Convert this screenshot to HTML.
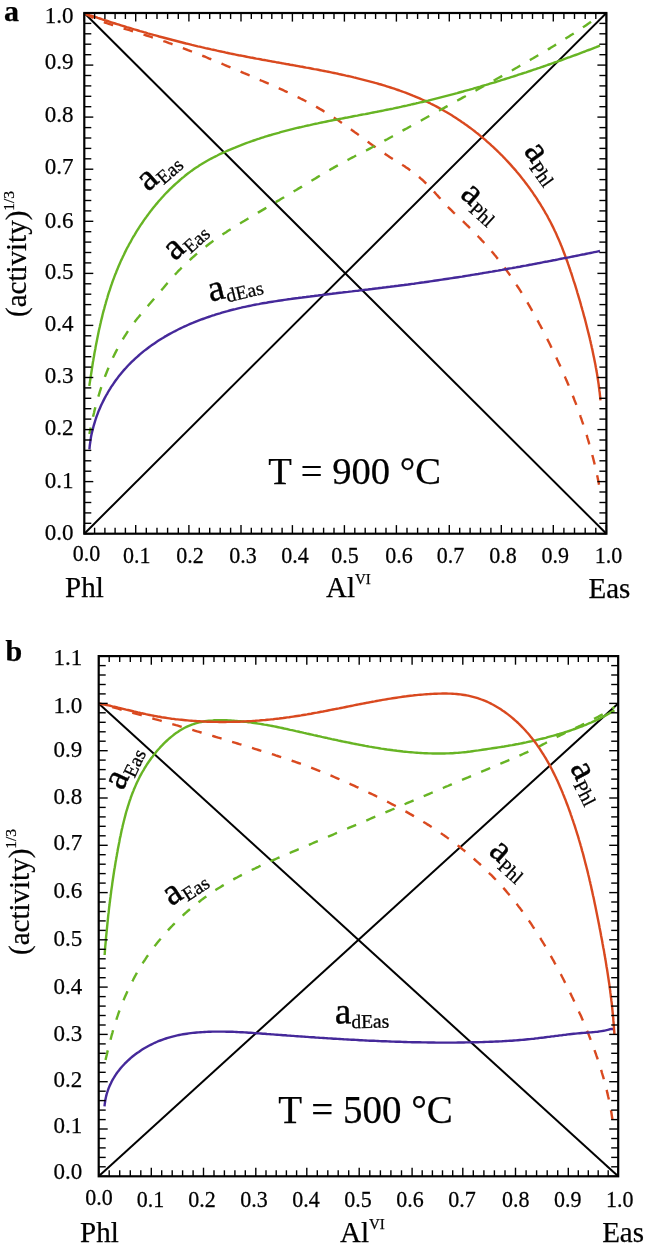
<!DOCTYPE html>
<html><head><meta charset="utf-8"><style>
html,body{margin:0;padding:0;background:#fff;width:646px;height:1246px;overflow:hidden}
svg{display:block}
text{font-family:"Liberation Serif",serif;fill:#000;stroke:#000;stroke-width:0.25px}
</style></head><body>
<svg width="646" height="1246" viewBox="0 0 646 1246" font-family="Liberation Serif, serif">
<rect width="646" height="1246" fill="#fff"/>
<g opacity="0.999">
<line x1="84.3" y1="13.0" x2="606.4" y2="533.7" stroke="#000" stroke-width="2"/><line x1="84.3" y1="533.7" x2="606.4" y2="13.0" stroke="#000" stroke-width="2"/><path d="M84.3,13.3 L86.2,14.0 L88.2,14.6 L90.1,15.3 L92.0,15.9 L94.0,16.6 L95.9,17.2 L97.8,17.9 L99.7,18.5 L101.7,19.2 L103.6,19.8 L105.5,20.4 L107.4,21.0 L109.4,21.7 L111.3,22.3 L113.2,22.9 L115.1,23.5 L117.0,24.1 L119.0,24.7 L120.9,25.3 L122.8,25.9 L124.7,26.5 L126.6,27.1 L128.6,27.6 L130.5,28.2 L132.4,28.8 L134.3,29.4 L136.2,29.9 L138.1,30.5 L140.1,31.1 L142.0,31.6 L143.9,32.2 L145.8,32.7 L147.7,33.3 L149.6,33.8 L151.5,34.3 L153.5,34.9 L155.4,35.4 L157.3,35.9 L159.2,36.5 L161.1,37.0 L163.1,37.5 L165.0,38.0 L166.9,38.5 L168.8,39.0 L170.7,39.5 L172.6,40.0 L174.6,40.5 L176.5,41.0 L178.4,41.5 L180.3,42.0 L182.3,42.5 L184.2,43.0 L186.1,43.5 L188.0,43.9 L190.0,44.4 L191.9,44.9 L193.8,45.3 L195.8,45.8 L197.7,46.3 L199.6,46.7 L201.6,47.2 L203.5,47.6 L205.4,48.1 L207.4,48.5 L209.3,48.9 L211.2,49.4 L213.2,49.8 L215.1,50.2 L217.1,50.7 L219.0,51.1 L221.0,51.5 L222.9,51.9 L224.9,52.3 L226.8,52.8 L228.8,53.2 L230.7,53.6 L232.7,54.0 L234.7,54.4 L236.6,54.8 L238.6,55.2 L240.5,55.5 L242.5,55.9 L244.5,56.3 L246.5,56.7 L248.4,57.1 L250.4,57.5 L252.4,57.8 L254.4,58.2 L256.3,58.6 L258.3,58.9 L260.3,59.3 L262.3,59.7 L264.3,60.0 L266.3,60.4 L268.3,60.8 L270.3,61.1 L272.3,61.5 L274.3,61.8 L276.2,62.2 L278.2,62.5 L280.2,62.9 L282.2,63.3 L284.2,63.6 L286.2,64.0 L288.2,64.3 L290.2,64.7 L292.2,65.0 L294.2,65.4 L296.2,65.8 L298.2,66.1 L300.2,66.5 L302.2,66.8 L304.2,67.2 L306.2,67.6 L308.2,67.9 L310.2,68.3 L312.2,68.7 L314.2,69.1 L316.2,69.4 L318.2,69.8 L320.2,70.2 L322.2,70.6 L324.2,71.0 L326.2,71.4 L328.2,71.8 L330.1,72.2 L332.1,72.6 L334.1,73.0 L336.1,73.4 L338.1,73.8 L340.0,74.3 L342.0,74.7 L344.0,75.1 L346.0,75.6 L347.9,76.0 L349.9,76.4 L351.9,76.9 L353.8,77.4 L355.8,77.8 L357.7,78.3 L359.7,78.8 L361.6,79.3 L363.6,79.8 L365.5,80.3 L367.5,80.8 L369.4,81.3 L371.3,81.8 L373.3,82.3 L375.2,82.9 L377.1,83.4 L379.0,84.0 L381.0,84.5 L382.9,85.1 L384.8,85.7 L386.7,86.3 L388.6,86.9 L390.5,87.5 L392.4,88.1 L394.3,88.7 L396.1,89.3 L398.0,90.0 L399.9,90.7 L401.8,91.3 L403.6,92.0 L405.5,92.7 L407.3,93.4 L409.2,94.1 L411.0,94.8 L412.9,95.6 L414.7,96.3 L416.5,97.1 L418.4,97.9 L420.2,98.7 L422.0,99.5 L423.8,100.3 L425.6,101.1 L427.4,102.0 L429.2,102.8 L430.9,103.7 L432.7,104.6 L434.5,105.5 L436.2,106.4 L438.0,107.4 L439.7,108.3 L441.5,109.3 L443.2,110.3 L444.9,111.3 L446.7,112.3 L448.4,113.3 L450.1,114.3 L451.8,115.3 L453.5,116.4 L455.2,117.5 L456.8,118.6 L458.5,119.7 L460.2,120.8 L461.8,121.9 L463.5,123.0 L465.1,124.2 L466.7,125.3 L468.3,126.5 L470.0,127.7 L471.6,128.9 L473.2,130.1 L474.7,131.3 L476.3,132.6 L477.9,133.8 L479.5,135.1 L481.0,136.4 L482.5,137.6 L484.1,138.9 L485.6,140.2 L487.1,141.6 L488.6,142.9 L490.1,144.2 L491.6,145.6 L493.1,146.9 L494.6,148.3 L496.0,149.7 L497.5,151.1 L498.9,152.5 L500.3,153.9 L501.8,155.3 L503.2,156.8 L504.6,158.2 L506.0,159.7 L507.3,161.1 L508.7,162.6 L510.1,164.1 L511.4,165.6 L512.7,167.1 L514.1,168.6 L515.4,170.1 L516.7,171.7 L518.0,173.2 L519.3,174.8 L520.5,176.3 L521.8,177.9 L523.0,179.5 L524.3,181.1 L525.5,182.7 L526.7,184.3 L527.9,185.9 L529.1,187.5 L530.3,189.1 L531.4,190.8 L532.6,192.4 L533.7,194.1 L534.8,195.7 L536.0,197.4 L537.1,199.1 L538.1,200.8 L539.2,202.5 L540.3,204.2 L541.3,205.9 L542.4,207.6 L543.4,209.3 L544.4,211.0 L545.4,212.8 L546.4,214.5 L547.4,216.2 L548.3,218.0 L549.3,219.8 L550.2,221.5 L551.1,223.3 L552.0,225.1 L552.9,226.9 L553.8,228.7 L554.6,230.5 L555.5,232.3 L556.3,234.1 L557.1,235.9 L557.9,237.7 L558.7,239.5 L559.5,241.4 L560.3,243.2 L561.0,245.0 L561.8,246.9 L562.5,248.7 L563.2,250.6 L563.9,252.5 L564.6,254.3 L565.3,256.2 L566.0,258.1 L566.7,260.0 L567.4,261.8 L568.0,263.7 L568.7,265.6 L569.3,267.5 L570.0,269.4 L570.6,271.3 L571.3,273.2 L571.9,275.1 L572.5,277.0 L573.1,279.0 L573.7,280.9 L574.4,282.8 L575.0,284.7 L575.6,286.7 L576.2,288.6 L576.8,290.5 L577.3,292.5 L577.9,294.4 L578.5,296.4 L579.1,298.3 L579.7,300.3 L580.2,302.2 L580.8,304.2 L581.3,306.1 L581.9,308.1 L582.4,310.0 L583.0,312.0 L583.5,314.0 L584.0,315.9 L584.6,317.9 L585.1,319.8 L585.6,321.8 L586.1,323.8 L586.6,325.8 L587.1,327.7 L587.6,329.7 L588.1,331.7 L588.6,333.6 L589.1,335.6 L589.6,337.6 L590.0,339.6 L590.5,341.5 L590.9,343.5 L591.4,345.5 L591.8,347.5 L592.3,349.4 L592.7,351.4 L593.1,353.4 L593.5,355.4 L593.9,357.3 L594.3,359.3 L594.7,361.3 L595.1,363.2 L595.5,365.2 L595.8,367.2 L596.2,369.1 L596.5,371.1 L596.9,373.1 L597.2,375.0 L597.5,377.0 L597.8,379.0 L598.1,380.9 L598.4,382.9 L598.7,384.8 L598.9,386.8 L599.2,388.7 L599.4,390.7 L599.7,392.6 L599.9,394.6 L600.1,396.5 L600.3,398.5 L600.5,400.4" fill="none" stroke="#d9491f" stroke-width="2.4" stroke-linejoin="round"/><path d="M84.3,13.3 L86.2,14.3 L88.1,15.3 L89.9,16.2 L91.8,17.1 L93.7,18.0 L95.6,18.8 L97.4,19.6 L99.3,20.4 L101.2,21.1 L103.1,21.8 L105.0,22.5 L106.9,23.2 L108.7,23.8 L110.6,24.4 L112.5,25.0 L114.4,25.6 L116.3,26.2 L118.2,26.8 L120.1,27.4 L121.9,27.9 L123.8,28.5 L125.7,29.1 L127.6,29.6 L129.5,30.2 L131.4,30.8 L133.3,31.4 L135.2,31.9 L137.0,32.5 L138.9,33.1 L140.8,33.7 L142.7,34.3 L144.6,34.9 L146.5,35.5 L148.4,36.1 L150.3,36.7 L152.2,37.3 L154.0,37.9 L155.9,38.5 L157.8,39.2 L159.7,39.8 L161.6,40.4 L163.5,41.1 L165.4,41.7 L167.3,42.4 L169.1,43.1 L171.0,43.7 L172.9,44.4 L174.8,45.1 L176.7,45.8 L178.6,46.5 L180.5,47.2 L182.3,47.9 L184.2,48.6 L186.1,49.3 L188.0,50.1 L189.9,50.8 L191.7,51.5 L193.6,52.2 L195.5,53.0 L197.4,53.7 L199.3,54.5 L201.1,55.2 L203.0,56.0 L204.9,56.7 L206.8,57.5 L208.6,58.3 L210.5,59.0 L212.4,59.8 L214.3,60.6 L216.1,61.4 L218.0,62.1 L219.9,62.9 L221.7,63.7 L223.6,64.5 L225.5,65.3 L227.3,66.1 L229.2,66.8 L231.1,67.6 L232.9,68.4 L234.8,69.2 L236.6,70.0 L238.5,70.8 L240.4,71.6 L242.2,72.4 L244.1,73.2 L245.9,73.9 L247.8,74.7 L249.6,75.5 L251.5,76.3 L253.3,77.1 L255.2,77.9 L257.0,78.7 L258.8,79.5 L260.7,80.3 L262.5,81.0 L264.4,81.8 L266.2,82.6 L268.0,83.4 L269.8,84.2 L271.7,85.0 L273.5,85.8 L275.3,86.6 L277.1,87.5 L279.0,88.3 L280.8,89.1 L282.6,89.9 L284.4,90.8 L286.2,91.6 L288.0,92.4 L289.8,93.3 L291.6,94.1 L293.4,95.0 L295.2,95.9 L297.0,96.8 L298.8,97.6 L300.5,98.5 L302.3,99.4 L304.1,100.3 L305.9,101.2 L307.6,102.2 L309.4,103.1 L311.1,104.0 L312.9,105.0 L314.6,106.0 L316.4,106.9 L318.1,107.9 L319.8,108.9 L321.6,109.9 L323.3,110.9 L325.0,112.0 L326.7,113.0 L328.4,114.0 L330.1,115.1 L331.8,116.2 L333.5,117.3 L335.2,118.4 L336.9,119.5 L338.6,120.6 L340.2,121.8 L341.9,122.9 L343.6,124.1 L345.2,125.2 L346.9,126.4 L348.5,127.6 L350.2,128.8 L351.8,130.0 L353.5,131.2 L355.1,132.4 L356.8,133.6 L358.4,134.8 L360.0,136.0 L361.7,137.2 L363.3,138.4 L364.9,139.6 L366.6,140.8 L368.2,142.0 L369.8,143.2 L371.5,144.4 L373.1,145.6 L374.7,146.7 L376.4,147.9 L378.0,149.1 L379.7,150.2 L381.3,151.4 L383.0,152.5 L384.6,153.6 L386.3,154.7 L387.9,155.8 L389.6,156.9 L391.2,157.9 L392.9,159.0 L394.6,160.0 L396.3,161.1 L397.9,162.1 L399.6,163.2 L401.3,164.2 L402.9,165.3 L404.6,166.3 L406.2,167.4 L407.9,168.5 L409.5,169.7 L411.1,170.8 L412.7,172.0 L414.4,173.2 L415.9,174.4 L417.5,175.7 L419.1,177.0 L420.6,178.4 L422.2,179.7 L423.7,181.1 L425.2,182.6 L426.6,184.0 L428.1,185.4 L429.5,186.9 L430.9,188.4 L432.3,189.8 L433.6,191.3 L435.0,192.7 L436.3,194.2 L437.6,195.6 L438.9,197.1 L440.2,198.5 L441.4,200.0 L442.7,201.4 L444.1,202.8 L445.4,204.2 L446.7,205.7 L448.1,207.1 L449.5,208.5 L451.0,209.9 L452.4,211.3 L453.9,212.8 L455.4,214.2 L456.9,215.6 L458.4,217.0 L459.9,218.4 L461.4,219.8 L462.9,221.2 L464.4,222.7 L465.9,224.1 L467.3,225.5 L468.8,226.9 L470.2,228.3 L471.7,229.8 L473.1,231.2 L474.5,232.6 L475.9,234.1 L477.3,235.5 L478.7,237.0 L480.1,238.4 L481.4,239.9 L482.8,241.3 L484.1,242.8 L485.5,244.3 L486.8,245.8 L488.1,247.3 L489.4,248.7 L490.7,250.2 L492.0,251.8 L493.3,253.3 L494.5,254.8 L495.8,256.3 L497.0,257.9 L498.3,259.4 L499.5,261.0 L500.7,262.6 L501.9,264.1 L503.1,265.7 L504.3,267.3 L505.5,268.9 L506.7,270.5 L507.8,272.1 L509.0,273.8 L510.1,275.4 L511.3,277.1 L512.4,278.7 L513.5,280.4 L514.6,282.0 L515.7,283.7 L516.8,285.4 L517.9,287.0 L519.0,288.7 L520.1,290.4 L521.2,292.1 L522.2,293.8 L523.3,295.5 L524.3,297.3 L525.4,299.0 L526.4,300.7 L527.4,302.4 L528.4,304.2 L529.4,305.9 L530.4,307.7 L531.4,309.4 L532.4,311.2 L533.4,312.9 L534.4,314.7 L535.4,316.5 L536.4,318.2 L537.3,320.0 L538.3,321.8 L539.2,323.6 L540.2,325.3 L541.1,327.1 L542.1,328.9 L543.0,330.7 L543.9,332.5 L544.8,334.3 L545.7,336.1 L546.7,337.9 L547.6,339.7 L548.5,341.5 L549.4,343.3 L550.3,345.1 L551.1,346.9 L552.0,348.7 L552.9,350.5 L553.8,352.4 L554.7,354.2 L555.5,356.0 L556.4,357.8 L557.2,359.6 L558.1,361.5 L558.9,363.3 L559.8,365.1 L560.6,366.9 L561.4,368.8 L562.2,370.6 L563.0,372.4 L563.8,374.3 L564.7,376.1 L565.4,377.9 L566.2,379.8 L567.0,381.6 L567.8,383.5 L568.6,385.3 L569.3,387.2 L570.1,389.0 L570.9,390.9 L571.6,392.7 L572.4,394.6 L573.1,396.5 L573.8,398.3 L574.5,400.2 L575.3,402.1 L576.0,403.9 L576.7,405.8 L577.4,407.7 L578.1,409.6 L578.7,411.5 L579.4,413.3 L580.1,415.2 L580.7,417.1 L581.4,419.0 L582.0,420.9 L582.7,422.8 L583.3,424.7 L583.9,426.6 L584.6,428.5 L585.2,430.4 L585.8,432.3 L586.4,434.2 L587.0,436.1 L587.5,438.0 L588.1,440.0 L588.7,441.9 L589.2,443.8 L589.8,445.7 L590.3,447.6 L590.9,449.6 L591.4,451.5 L591.9,453.4 L592.4,455.4 L592.9,457.3 L593.4,459.3 L593.9,461.2 L594.4,463.2 L594.8,465.1 L595.3,467.1 L595.7,469.0 L596.2,471.0 L596.6,473.0 L597.0,474.9 L597.5,476.9 L597.9,478.9 L598.3,480.9 L598.7,482.8 L599.0,484.8 L599.4,486.8" fill="none" stroke="#d9491f" stroke-width="2.4" stroke-linejoin="round" stroke-dasharray="9.8,11" stroke-dashoffset="20.14"/><path d="M89.3,386.0 L89.6,384.0 L89.9,382.1 L90.2,380.1 L90.5,378.1 L90.8,376.1 L91.1,374.1 L91.4,372.2 L91.7,370.2 L92.0,368.2 L92.3,366.2 L92.6,364.2 L92.9,362.3 L93.3,360.3 L93.6,358.3 L94.0,356.3 L94.3,354.3 L94.6,352.4 L95.0,350.4 L95.4,348.4 L95.7,346.4 L96.1,344.4 L96.5,342.5 L96.9,340.5 L97.3,338.5 L97.7,336.5 L98.1,334.6 L98.5,332.6 L98.9,330.6 L99.3,328.7 L99.8,326.7 L100.2,324.7 L100.7,322.8 L101.1,320.8 L101.6,318.9 L102.1,316.9 L102.5,315.0 L103.0,313.0 L103.5,311.1 L104.1,309.1 L104.6,307.2 L105.1,305.3 L105.7,303.3 L106.2,301.4 L106.8,299.5 L107.4,297.5 L107.9,295.6 L108.5,293.7 L109.1,291.8 L109.8,289.9 L110.4,288.0 L111.0,286.1 L111.7,284.2 L112.3,282.3 L113.0,280.4 L113.7,278.6 L114.4,276.7 L115.1,274.8 L115.9,273.0 L116.6,271.1 L117.4,269.3 L118.1,267.4 L118.9,265.6 L119.7,263.8 L120.5,261.9 L121.3,260.1 L122.2,258.3 L123.0,256.5 L123.9,254.7 L124.7,252.9 L125.6,251.1 L126.5,249.3 L127.4,247.5 L128.4,245.8 L129.3,244.0 L130.3,242.3 L131.3,240.5 L132.2,238.8 L133.2,237.0 L134.3,235.3 L135.3,233.6 L136.3,231.9 L137.4,230.2 L138.5,228.5 L139.5,226.8 L140.6,225.1 L141.8,223.5 L142.9,221.8 L144.0,220.1 L145.2,218.5 L146.4,216.9 L147.6,215.2 L148.8,213.6 L150.0,212.0 L151.2,210.4 L152.5,208.8 L153.7,207.3 L155.0,205.7 L156.3,204.1 L157.6,202.6 L158.9,201.0 L160.3,199.5 L161.6,198.0 L163.0,196.5 L164.3,195.0 L165.7,193.5 L167.1,192.1 L168.6,190.6 L170.0,189.2 L171.4,187.8 L172.9,186.4 L174.4,185.0 L175.9,183.6 L177.4,182.3 L178.9,181.0 L180.4,179.6 L181.9,178.3 L183.5,177.1 L185.0,175.8 L186.6,174.5 L188.2,173.3 L189.8,172.1 L191.4,170.9 L193.0,169.8 L194.7,168.6 L196.3,167.5 L198.0,166.4 L199.6,165.3 L201.3,164.3 L203.0,163.2 L204.7,162.2 L206.4,161.2 L208.1,160.3 L209.9,159.3 L211.6,158.4 L213.3,157.5 L215.1,156.6 L216.9,155.7 L218.6,154.8 L220.4,153.9 L222.2,153.1 L224.0,152.3 L225.8,151.5 L227.6,150.7 L229.5,149.9 L231.3,149.1 L233.1,148.3 L235.0,147.6 L236.8,146.8 L238.7,146.1 L240.5,145.4 L242.4,144.6 L244.3,143.9 L246.2,143.2 L248.0,142.5 L249.9,141.8 L251.8,141.2 L253.7,140.5 L255.6,139.8 L257.5,139.2 L259.4,138.6 L261.3,137.9 L263.3,137.3 L265.2,136.7 L267.1,136.1 L269.0,135.5 L270.9,135.0 L272.9,134.4 L274.8,133.8 L276.7,133.3 L278.7,132.8 L280.6,132.2 L282.5,131.7 L284.5,131.2 L286.4,130.7 L288.4,130.2 L290.3,129.7 L292.3,129.2 L294.2,128.7 L296.2,128.2 L298.1,127.7 L300.1,127.3 L302.1,126.8 L304.0,126.4 L306.0,125.9 L307.9,125.5 L309.9,125.1 L311.9,124.6 L313.8,124.2 L315.8,123.8 L317.8,123.4 L319.8,122.9 L321.7,122.5 L323.7,122.1 L325.7,121.7 L327.7,121.3 L329.6,120.9 L331.6,120.5 L333.6,120.1 L335.6,119.8 L337.6,119.4 L339.5,119.0 L341.5,118.6 L343.5,118.2 L345.5,117.8 L347.5,117.5 L349.4,117.1 L351.4,116.7 L353.4,116.3 L355.4,115.9 L357.4,115.6 L359.3,115.2 L361.3,114.8 L363.3,114.4 L365.3,114.1 L367.3,113.7 L369.2,113.3 L371.2,112.9 L373.2,112.5 L375.2,112.1 L377.1,111.8 L379.1,111.4 L381.1,111.0 L383.1,110.6 L385.0,110.2 L387.0,109.8 L389.0,109.4 L391.0,109.0 L392.9,108.6 L394.9,108.1 L396.9,107.7 L398.8,107.3 L400.8,106.9 L402.7,106.4 L404.7,106.0 L406.7,105.6 L408.6,105.1 L410.6,104.7 L412.5,104.2 L414.5,103.8 L416.4,103.3 L418.4,102.9 L420.3,102.4 L422.3,102.0 L424.2,101.5 L426.2,101.0 L428.1,100.6 L430.1,100.1 L432.0,99.6 L434.0,99.1 L435.9,98.6 L437.9,98.1 L439.8,97.6 L441.7,97.1 L443.7,96.6 L445.6,96.1 L447.6,95.6 L449.5,95.1 L451.4,94.6 L453.4,94.1 L455.3,93.6 L457.2,93.1 L459.2,92.5 L461.1,92.0 L463.0,91.5 L464.9,90.9 L466.9,90.4 L468.8,89.9 L470.7,89.3 L472.6,88.8 L474.6,88.2 L476.5,87.7 L478.4,87.1 L480.3,86.6 L482.3,86.0 L484.2,85.4 L486.1,84.9 L488.0,84.3 L489.9,83.7 L491.8,83.1 L493.8,82.6 L495.7,82.0 L497.6,81.4 L499.5,80.8 L501.4,80.2 L503.3,79.6 L505.2,79.0 L507.1,78.4 L509.1,77.8 L511.0,77.2 L512.9,76.6 L514.8,76.0 L516.7,75.4 L518.6,74.7 L520.5,74.1 L522.4,73.5 L524.3,72.9 L526.2,72.3 L528.1,71.6 L530.0,71.0 L531.9,70.3 L533.8,69.7 L535.7,69.1 L537.6,68.4 L539.5,67.8 L541.4,67.1 L543.3,66.5 L545.2,65.8 L547.1,65.2 L549.0,64.5 L550.9,63.8 L552.8,63.2 L554.7,62.5 L556.6,61.8 L558.5,61.2 L560.4,60.5 L562.3,59.8 L564.1,59.1 L566.0,58.4 L567.9,57.7 L569.8,57.1 L571.7,56.4 L573.6,55.7 L575.5,55.0 L577.4,54.3 L579.3,53.6 L581.1,52.9 L583.0,52.2 L584.9,51.5 L586.8,50.7 L588.7,50.0 L590.6,49.3 L592.5,48.6 L594.3,47.9 L596.2,47.2 L598.1,46.4 L600.0,45.7" fill="none" stroke="#67b424" stroke-width="2.4" stroke-linejoin="round"/><path d="M89.4,434.1 L89.8,432.1 L90.2,430.2 L90.6,428.2 L91.0,426.2 L91.4,424.3 L91.8,422.3 L92.2,420.4 L92.7,418.4 L93.1,416.4 L93.6,414.5 L94.1,412.5 L94.5,410.6 L95.0,408.6 L95.5,406.7 L96.0,404.7 L96.6,402.8 L97.1,400.9 L97.7,398.9 L98.2,397.0 L98.8,395.1 L99.4,393.1 L100.0,391.2 L100.6,389.3 L101.2,387.4 L101.8,385.5 L102.5,383.6 L103.1,381.7 L103.8,379.8 L104.5,377.9 L105.2,376.0 L105.9,374.2 L106.7,372.3 L107.4,370.4 L108.2,368.6 L108.9,366.7 L109.7,364.9 L110.5,363.0 L111.4,361.2 L112.2,359.4 L113.0,357.5 L113.9,355.7 L114.8,353.9 L115.7,352.1 L116.6,350.4 L117.5,348.6 L118.5,346.8 L119.5,345.1 L120.4,343.3 L121.4,341.6 L122.5,339.9 L123.5,338.2 L124.5,336.5 L125.6,334.8 L126.7,333.1 L127.8,331.4 L128.9,329.8 L130.1,328.1 L131.2,326.5 L132.4,324.9 L133.6,323.3 L134.8,321.7 L136.1,320.1 L137.3,318.5 L138.6,317.0 L139.9,315.4 L141.1,313.9 L142.4,312.4 L143.7,310.8 L145.0,309.3 L146.3,307.8 L147.6,306.3 L148.9,304.8 L150.2,303.3 L151.5,301.8 L152.8,300.3 L154.1,298.8 L155.4,297.3 L156.7,295.8 L157.9,294.3 L159.2,292.8 L160.5,291.3 L161.8,289.8 L163.1,288.3 L164.4,286.7 L165.6,285.2 L166.9,283.7 L168.3,282.2 L169.6,280.6 L170.9,279.1 L172.2,277.6 L173.6,276.1 L175.0,274.6 L176.3,273.2 L177.7,271.7 L179.2,270.2 L180.6,268.8 L182.0,267.3 L183.5,265.9 L184.9,264.5 L186.4,263.1 L187.9,261.7 L189.4,260.3 L190.9,259.0 L192.4,257.6 L194.0,256.3 L195.5,254.9 L197.1,253.6 L198.6,252.3 L200.2,251.0 L201.8,249.7 L203.3,248.5 L204.9,247.2 L206.5,246.0 L208.1,244.7 L209.7,243.5 L211.4,242.3 L213.0,241.1 L214.6,240.0 L216.2,238.8 L217.9,237.7 L219.5,236.6 L221.1,235.4 L222.8,234.3 L224.4,233.3 L226.1,232.2 L227.7,231.1 L229.4,230.0 L231.0,229.0 L232.7,227.9 L234.4,226.9 L236.1,225.9 L237.7,224.8 L239.4,223.8 L241.1,222.8 L242.8,221.8 L244.5,220.8 L246.2,219.7 L247.9,218.7 L249.6,217.7 L251.3,216.7 L253.0,215.7 L254.7,214.7 L256.4,213.7 L258.1,212.6 L259.8,211.6 L261.5,210.6 L263.2,209.6 L264.9,208.6 L266.7,207.5 L268.4,206.5 L270.1,205.5 L271.8,204.5 L273.6,203.4 L275.3,202.4 L277.0,201.4 L278.8,200.4 L280.5,199.3 L282.2,198.3 L284.0,197.3 L285.7,196.2 L287.5,195.2 L289.2,194.2 L290.9,193.1 L292.7,192.1 L294.4,191.0 L296.2,190.0 L297.9,188.9 L299.7,187.9 L301.4,186.9 L303.1,185.8 L304.9,184.8 L306.6,183.7 L308.4,182.6 L310.1,181.6 L311.9,180.5 L313.6,179.5 L315.4,178.4 L317.1,177.4 L318.9,176.3 L320.6,175.3 L322.4,174.3 L324.1,173.2 L325.9,172.2 L327.6,171.2 L329.4,170.2 L331.1,169.1 L332.9,168.1 L334.6,167.1 L336.4,166.1 L338.1,165.2 L339.9,164.2 L341.6,163.2 L343.4,162.3 L345.1,161.3 L346.9,160.4 L348.6,159.5 L350.4,158.5 L352.1,157.6 L353.9,156.7 L355.6,155.8 L357.4,154.9 L359.2,154.1 L360.9,153.2 L362.7,152.3 L364.4,151.4 L366.2,150.5 L367.9,149.6 L369.7,148.6 L371.4,147.7 L373.2,146.8 L375.0,145.9 L376.7,144.9 L378.5,144.0 L380.2,143.0 L382.0,142.1 L383.8,141.1 L385.5,140.1 L387.3,139.2 L389.0,138.2 L390.8,137.3 L392.6,136.3 L394.3,135.3 L396.1,134.3 L397.8,133.4 L399.6,132.4 L401.4,131.4 L403.1,130.4 L404.9,129.4 L406.7,128.5 L408.4,127.5 L410.2,126.5 L412.0,125.5 L413.7,124.5 L415.5,123.6 L417.2,122.6 L419.0,121.6 L420.8,120.7 L422.5,119.7 L424.3,118.7 L426.1,117.7 L427.8,116.8 L429.6,115.8 L431.4,114.8 L433.1,113.9 L434.9,112.9 L436.7,111.9 L438.4,111.0 L440.2,110.0 L442.0,109.0 L443.7,108.1 L445.5,107.1 L447.3,106.1 L449.0,105.2 L450.8,104.2 L452.6,103.2 L454.3,102.3 L456.1,101.3 L457.9,100.3 L459.6,99.4 L461.4,98.4 L463.1,97.4 L464.9,96.5 L466.7,95.5 L468.4,94.5 L470.2,93.6 L472.0,92.6 L473.7,91.6 L475.5,90.7 L477.2,89.7 L479.0,88.7 L480.8,87.8 L482.5,86.8 L484.3,85.8 L486.0,84.8 L487.8,83.9 L489.5,82.9 L491.3,81.9 L493.0,81.0 L494.8,80.0 L496.5,79.0 L498.3,78.0 L500.0,77.1 L501.8,76.1 L503.5,75.1 L505.3,74.1 L507.0,73.1 L508.8,72.2 L510.5,71.2 L512.3,70.2 L514.0,69.2 L515.7,68.2 L517.5,67.2 L519.2,66.2 L521.0,65.2 L522.7,64.3 L524.4,63.3 L526.2,62.3 L527.9,61.3 L529.6,60.3 L531.3,59.3 L533.1,58.3 L534.8,57.2 L536.5,56.2 L538.2,55.2 L540.0,54.2 L541.7,53.2 L543.4,52.2 L545.1,51.1 L546.8,50.1 L548.6,49.1 L550.3,48.1 L552.0,47.0 L553.7,46.0 L555.4,44.9 L557.1,43.9 L558.8,42.8 L560.5,41.8 L562.2,40.7 L563.9,39.7 L565.6,38.6 L567.3,37.5 L569.0,36.4 L570.7,35.3 L572.4,34.3 L574.1,33.2 L575.8,32.1 L577.4,31.0 L579.1,29.9 L580.8,28.7 L582.5,27.6 L584.2,26.5 L585.8,25.4 L587.5,24.2 L589.2,23.1 L590.8,22.0 L592.5,20.8" fill="none" stroke="#67b424" stroke-width="2.4" stroke-linejoin="round" stroke-dasharray="9.8,11" stroke-dashoffset="3.02"/><path d="M89.4,449.3 L89.6,447.3 L89.8,445.2 L90.1,443.2 L90.4,441.2 L90.7,439.2 L91.0,437.1 L91.4,435.1 L91.8,433.2 L92.3,431.2 L92.8,429.2 L93.3,427.2 L93.8,425.3 L94.4,423.3 L95.0,421.4 L95.6,419.5 L96.2,417.6 L96.9,415.7 L97.6,413.8 L98.3,411.9 L99.1,410.0 L99.9,408.2 L100.7,406.3 L101.5,404.5 L102.4,402.7 L103.3,400.9 L104.2,399.1 L105.1,397.3 L106.1,395.5 L107.1,393.8 L108.1,392.0 L109.1,390.3 L110.2,388.6 L111.2,386.9 L112.4,385.3 L113.5,383.6 L114.6,382.0 L115.8,380.3 L117.0,378.7 L118.2,377.1 L119.4,375.6 L120.7,374.0 L121.9,372.5 L123.2,370.9 L124.6,369.4 L125.9,368.0 L127.2,366.5 L128.6,365.0 L130.0,363.6 L131.4,362.2 L132.8,360.8 L134.3,359.5 L135.7,358.1 L137.2,356.8 L138.7,355.5 L140.2,354.2 L141.7,352.9 L143.2,351.6 L144.8,350.4 L146.4,349.2 L148.0,348.0 L149.6,346.8 L151.2,345.6 L152.8,344.5 L154.4,343.4 L156.1,342.2 L157.8,341.1 L159.4,340.1 L161.1,339.0 L162.8,338.0 L164.5,336.9 L166.3,335.9 L168.0,334.9 L169.8,333.9 L171.5,333.0 L173.3,332.0 L175.1,331.1 L176.8,330.2 L178.6,329.3 L180.5,328.4 L182.3,327.5 L184.1,326.7 L185.9,325.9 L187.8,325.0 L189.6,324.2 L191.5,323.4 L193.3,322.7 L195.2,321.9 L197.1,321.1 L198.9,320.4 L200.8,319.7 L202.7,319.0 L204.6,318.3 L206.5,317.6 L208.4,317.0 L210.3,316.3 L212.2,315.7 L214.2,315.1 L216.1,314.4 L218.0,313.8 L219.9,313.3 L221.9,312.7 L223.8,312.1 L225.7,311.6 L227.6,311.1 L229.6,310.5 L231.5,310.0 L233.5,309.5 L235.4,309.1 L237.3,308.6 L239.3,308.1 L241.2,307.7 L243.2,307.2 L245.1,306.8 L247.1,306.4 L249.0,306.0 L251.0,305.6 L252.9,305.2 L254.9,304.8 L256.8,304.4 L258.8,304.1 L260.7,303.7 L262.7,303.3 L264.6,303.0 L266.6,302.7 L268.6,302.3 L270.5,302.0 L272.5,301.7 L274.5,301.4 L276.4,301.1 L278.4,300.8 L280.4,300.5 L282.3,300.2 L284.3,299.9 L286.3,299.6 L288.3,299.3 L290.2,299.1 L292.2,298.8 L294.2,298.5 L296.2,298.2 L298.1,298.0 L300.1,297.7 L302.1,297.5 L304.1,297.2 L306.1,297.0 L308.1,296.7 L310.0,296.5 L312.0,296.2 L314.0,296.0 L316.0,295.7 L318.0,295.5 L320.0,295.2 L322.0,295.0 L324.0,294.7 L326.0,294.5 L327.9,294.2 L329.9,294.0 L331.9,293.8 L333.9,293.5 L335.9,293.3 L337.9,293.0 L339.9,292.8 L341.9,292.6 L343.9,292.3 L345.9,292.1 L347.9,291.9 L349.9,291.6 L351.9,291.4 L353.9,291.1 L355.9,290.9 L357.9,290.7 L359.9,290.4 L361.9,290.2 L363.9,289.9 L365.9,289.7 L367.9,289.5 L369.9,289.2 L371.9,289.0 L373.9,288.7 L375.9,288.5 L377.9,288.3 L379.9,288.0 L381.9,287.8 L383.9,287.5 L385.9,287.3 L388.0,287.0 L390.0,286.8 L392.0,286.5 L394.0,286.3 L396.0,286.0 L398.0,285.8 L400.0,285.5 L402.0,285.2 L404.0,285.0 L406.0,284.7 L408.0,284.5 L410.0,284.2 L412.0,283.9 L414.0,283.7 L416.0,283.4 L418.0,283.1 L420.1,282.8 L422.1,282.5 L424.1,282.3 L426.1,282.0 L428.1,281.7 L430.1,281.4 L432.1,281.1 L434.1,280.8 L436.1,280.5 L438.1,280.2 L440.1,279.9 L442.1,279.6 L444.1,279.3 L446.1,279.0 L448.1,278.7 L450.1,278.4 L452.1,278.1 L454.1,277.8 L456.1,277.5 L458.1,277.2 L460.1,276.9 L462.1,276.6 L464.1,276.2 L466.1,275.9 L468.1,275.6 L470.1,275.3 L472.1,274.9 L474.1,274.6 L476.1,274.3 L478.1,274.0 L480.1,273.6 L482.1,273.3 L484.1,272.9 L486.1,272.6 L488.1,272.3 L490.1,271.9 L492.1,271.6 L494.1,271.2 L496.1,270.9 L498.0,270.6 L500.0,270.2 L502.0,269.9 L504.0,269.5 L506.0,269.2 L508.0,268.8 L510.0,268.4 L511.9,268.1 L513.9,267.7 L515.9,267.4 L517.9,267.0 L519.9,266.7 L521.9,266.3 L523.8,265.9 L525.8,265.6 L527.8,265.2 L529.8,264.8 L531.7,264.5 L533.7,264.1 L535.7,263.7 L537.6,263.3 L539.6,263.0 L541.6,262.6 L543.5,262.2 L545.5,261.8 L547.5,261.5 L549.4,261.1 L551.4,260.7 L553.4,260.3 L555.3,260.0 L557.3,259.6 L559.2,259.2 L561.2,258.8 L563.1,258.4 L565.1,258.0 L567.1,257.7 L569.0,257.3 L571.0,256.9 L572.9,256.5 L574.8,256.1 L576.8,255.7 L578.7,255.3 L580.7,254.9 L582.6,254.5 L584.5,254.2 L586.5,253.8 L588.4,253.4 L590.4,253.0 L592.3,252.6 L594.2,252.2 L596.1,251.8 L598.1,251.4 L600.0,251.0" fill="none" stroke="#45299a" stroke-width="2.4" stroke-linejoin="round"/><g stroke="#000" stroke-width="1.4"><line x1="84.3" y1="533.7" x2="84.3" y2="525.1"/><line x1="84.3" y1="13.0" x2="84.3" y2="21.6"/><line x1="94.6" y1="533.7" x2="94.6" y2="527.7"/><line x1="94.6" y1="13.0" x2="94.6" y2="19.0"/><line x1="104.9" y1="533.7" x2="104.9" y2="527.7"/><line x1="104.9" y1="13.0" x2="104.9" y2="19.0"/><line x1="115.1" y1="533.7" x2="115.1" y2="527.7"/><line x1="115.1" y1="13.0" x2="115.1" y2="19.0"/><line x1="125.4" y1="533.7" x2="125.4" y2="527.7"/><line x1="125.4" y1="13.0" x2="125.4" y2="19.0"/><line x1="135.7" y1="533.7" x2="135.7" y2="525.1"/><line x1="135.7" y1="13.0" x2="135.7" y2="21.6"/><line x1="146.3" y1="533.7" x2="146.3" y2="527.7"/><line x1="146.3" y1="13.0" x2="146.3" y2="19.0"/><line x1="157.0" y1="533.7" x2="157.0" y2="527.7"/><line x1="157.0" y1="13.0" x2="157.0" y2="19.0"/><line x1="167.6" y1="533.7" x2="167.6" y2="527.7"/><line x1="167.6" y1="13.0" x2="167.6" y2="19.0"/><line x1="178.3" y1="533.7" x2="178.3" y2="527.7"/><line x1="178.3" y1="13.0" x2="178.3" y2="19.0"/><line x1="188.9" y1="533.7" x2="188.9" y2="525.1"/><line x1="188.9" y1="13.0" x2="188.9" y2="21.6"/><line x1="199.3" y1="533.7" x2="199.3" y2="527.7"/><line x1="199.3" y1="13.0" x2="199.3" y2="19.0"/><line x1="209.7" y1="533.7" x2="209.7" y2="527.7"/><line x1="209.7" y1="13.0" x2="209.7" y2="19.0"/><line x1="220.2" y1="533.7" x2="220.2" y2="527.7"/><line x1="220.2" y1="13.0" x2="220.2" y2="19.0"/><line x1="230.6" y1="533.7" x2="230.6" y2="527.7"/><line x1="230.6" y1="13.0" x2="230.6" y2="19.0"/><line x1="241.0" y1="533.7" x2="241.0" y2="525.1"/><line x1="241.0" y1="13.0" x2="241.0" y2="21.6"/><line x1="251.3" y1="533.7" x2="251.3" y2="527.7"/><line x1="251.3" y1="13.0" x2="251.3" y2="19.0"/><line x1="261.6" y1="533.7" x2="261.6" y2="527.7"/><line x1="261.6" y1="13.0" x2="261.6" y2="19.0"/><line x1="271.8" y1="533.7" x2="271.8" y2="527.7"/><line x1="271.8" y1="13.0" x2="271.8" y2="19.0"/><line x1="282.1" y1="533.7" x2="282.1" y2="527.7"/><line x1="282.1" y1="13.0" x2="282.1" y2="19.0"/><line x1="292.4" y1="533.7" x2="292.4" y2="525.1"/><line x1="292.4" y1="13.0" x2="292.4" y2="21.6"/><line x1="302.8" y1="533.7" x2="302.8" y2="527.7"/><line x1="302.8" y1="13.0" x2="302.8" y2="19.0"/><line x1="313.2" y1="533.7" x2="313.2" y2="527.7"/><line x1="313.2" y1="13.0" x2="313.2" y2="19.0"/><line x1="323.6" y1="533.7" x2="323.6" y2="527.7"/><line x1="323.6" y1="13.0" x2="323.6" y2="19.0"/><line x1="334.0" y1="533.7" x2="334.0" y2="527.7"/><line x1="334.0" y1="13.0" x2="334.0" y2="19.0"/><line x1="344.4" y1="533.7" x2="344.4" y2="525.1"/><line x1="344.4" y1="13.0" x2="344.4" y2="21.6"/><line x1="354.8" y1="533.7" x2="354.8" y2="527.7"/><line x1="354.8" y1="13.0" x2="354.8" y2="19.0"/><line x1="365.2" y1="533.7" x2="365.2" y2="527.7"/><line x1="365.2" y1="13.0" x2="365.2" y2="19.0"/><line x1="375.6" y1="533.7" x2="375.6" y2="527.7"/><line x1="375.6" y1="13.0" x2="375.6" y2="19.0"/><line x1="386.0" y1="533.7" x2="386.0" y2="527.7"/><line x1="386.0" y1="13.0" x2="386.0" y2="19.0"/><line x1="396.4" y1="533.7" x2="396.4" y2="525.1"/><line x1="396.4" y1="13.0" x2="396.4" y2="21.6"/><line x1="407.0" y1="533.7" x2="407.0" y2="527.7"/><line x1="407.0" y1="13.0" x2="407.0" y2="19.0"/><line x1="417.6" y1="533.7" x2="417.6" y2="527.7"/><line x1="417.6" y1="13.0" x2="417.6" y2="19.0"/><line x1="428.1" y1="533.7" x2="428.1" y2="527.7"/><line x1="428.1" y1="13.0" x2="428.1" y2="19.0"/><line x1="438.7" y1="533.7" x2="438.7" y2="527.7"/><line x1="438.7" y1="13.0" x2="438.7" y2="19.0"/><line x1="449.3" y1="533.7" x2="449.3" y2="525.1"/><line x1="449.3" y1="13.0" x2="449.3" y2="21.6"/><line x1="459.7" y1="533.7" x2="459.7" y2="527.7"/><line x1="459.7" y1="13.0" x2="459.7" y2="19.0"/><line x1="470.1" y1="533.7" x2="470.1" y2="527.7"/><line x1="470.1" y1="13.0" x2="470.1" y2="19.0"/><line x1="480.5" y1="533.7" x2="480.5" y2="527.7"/><line x1="480.5" y1="13.0" x2="480.5" y2="19.0"/><line x1="490.9" y1="533.7" x2="490.9" y2="527.7"/><line x1="490.9" y1="13.0" x2="490.9" y2="19.0"/><line x1="501.3" y1="533.7" x2="501.3" y2="525.1"/><line x1="501.3" y1="13.0" x2="501.3" y2="21.6"/><line x1="511.7" y1="533.7" x2="511.7" y2="527.7"/><line x1="511.7" y1="13.0" x2="511.7" y2="19.0"/><line x1="522.1" y1="533.7" x2="522.1" y2="527.7"/><line x1="522.1" y1="13.0" x2="522.1" y2="19.0"/><line x1="532.5" y1="533.7" x2="532.5" y2="527.7"/><line x1="532.5" y1="13.0" x2="532.5" y2="19.0"/><line x1="542.9" y1="533.7" x2="542.9" y2="527.7"/><line x1="542.9" y1="13.0" x2="542.9" y2="19.0"/><line x1="553.3" y1="533.7" x2="553.3" y2="525.1"/><line x1="553.3" y1="13.0" x2="553.3" y2="21.6"/><line x1="563.9" y1="533.7" x2="563.9" y2="527.7"/><line x1="563.9" y1="13.0" x2="563.9" y2="19.0"/><line x1="574.5" y1="533.7" x2="574.5" y2="527.7"/><line x1="574.5" y1="13.0" x2="574.5" y2="19.0"/><line x1="585.2" y1="533.7" x2="585.2" y2="527.7"/><line x1="585.2" y1="13.0" x2="585.2" y2="19.0"/><line x1="595.8" y1="533.7" x2="595.8" y2="527.7"/><line x1="595.8" y1="13.0" x2="595.8" y2="19.0"/><line x1="606.4" y1="533.7" x2="606.4" y2="525.1"/><line x1="606.4" y1="13.0" x2="606.4" y2="21.6"/><line x1="84.3" y1="533.7" x2="93.3" y2="533.7"/><line x1="606.4" y1="533.7" x2="597.4" y2="533.7"/><line x1="84.3" y1="523.3" x2="91.3" y2="523.3"/><line x1="606.4" y1="523.3" x2="599.4" y2="523.3"/><line x1="84.3" y1="512.9" x2="91.3" y2="512.9"/><line x1="606.4" y1="512.9" x2="599.4" y2="512.9"/><line x1="84.3" y1="502.5" x2="91.3" y2="502.5"/><line x1="606.4" y1="502.5" x2="599.4" y2="502.5"/><line x1="84.3" y1="492.0" x2="91.3" y2="492.0"/><line x1="606.4" y1="492.0" x2="599.4" y2="492.0"/><line x1="84.3" y1="481.6" x2="93.3" y2="481.6"/><line x1="606.4" y1="481.6" x2="597.4" y2="481.6"/><line x1="84.3" y1="471.2" x2="91.3" y2="471.2"/><line x1="606.4" y1="471.2" x2="599.4" y2="471.2"/><line x1="84.3" y1="460.8" x2="91.3" y2="460.8"/><line x1="606.4" y1="460.8" x2="599.4" y2="460.8"/><line x1="84.3" y1="450.4" x2="91.3" y2="450.4"/><line x1="606.4" y1="450.4" x2="599.4" y2="450.4"/><line x1="84.3" y1="440.0" x2="91.3" y2="440.0"/><line x1="606.4" y1="440.0" x2="599.4" y2="440.0"/><line x1="84.3" y1="429.6" x2="93.3" y2="429.6"/><line x1="606.4" y1="429.6" x2="597.4" y2="429.6"/><line x1="84.3" y1="419.1" x2="91.3" y2="419.1"/><line x1="606.4" y1="419.1" x2="599.4" y2="419.1"/><line x1="84.3" y1="408.7" x2="91.3" y2="408.7"/><line x1="606.4" y1="408.7" x2="599.4" y2="408.7"/><line x1="84.3" y1="398.3" x2="91.3" y2="398.3"/><line x1="606.4" y1="398.3" x2="599.4" y2="398.3"/><line x1="84.3" y1="387.9" x2="91.3" y2="387.9"/><line x1="606.4" y1="387.9" x2="599.4" y2="387.9"/><line x1="84.3" y1="377.5" x2="93.3" y2="377.5"/><line x1="606.4" y1="377.5" x2="597.4" y2="377.5"/><line x1="84.3" y1="367.1" x2="91.3" y2="367.1"/><line x1="606.4" y1="367.1" x2="599.4" y2="367.1"/><line x1="84.3" y1="356.7" x2="91.3" y2="356.7"/><line x1="606.4" y1="356.7" x2="599.4" y2="356.7"/><line x1="84.3" y1="346.2" x2="91.3" y2="346.2"/><line x1="606.4" y1="346.2" x2="599.4" y2="346.2"/><line x1="84.3" y1="335.8" x2="91.3" y2="335.8"/><line x1="606.4" y1="335.8" x2="599.4" y2="335.8"/><line x1="84.3" y1="325.4" x2="93.3" y2="325.4"/><line x1="606.4" y1="325.4" x2="597.4" y2="325.4"/><line x1="84.3" y1="315.0" x2="91.3" y2="315.0"/><line x1="606.4" y1="315.0" x2="599.4" y2="315.0"/><line x1="84.3" y1="304.6" x2="91.3" y2="304.6"/><line x1="606.4" y1="304.6" x2="599.4" y2="304.6"/><line x1="84.3" y1="294.2" x2="91.3" y2="294.2"/><line x1="606.4" y1="294.2" x2="599.4" y2="294.2"/><line x1="84.3" y1="283.8" x2="91.3" y2="283.8"/><line x1="606.4" y1="283.8" x2="599.4" y2="283.8"/><line x1="84.3" y1="273.4" x2="93.3" y2="273.4"/><line x1="606.4" y1="273.4" x2="597.4" y2="273.4"/><line x1="84.3" y1="262.9" x2="91.3" y2="262.9"/><line x1="606.4" y1="262.9" x2="599.4" y2="262.9"/><line x1="84.3" y1="252.5" x2="91.3" y2="252.5"/><line x1="606.4" y1="252.5" x2="599.4" y2="252.5"/><line x1="84.3" y1="242.1" x2="91.3" y2="242.1"/><line x1="606.4" y1="242.1" x2="599.4" y2="242.1"/><line x1="84.3" y1="231.7" x2="91.3" y2="231.7"/><line x1="606.4" y1="231.7" x2="599.4" y2="231.7"/><line x1="84.3" y1="221.3" x2="93.3" y2="221.3"/><line x1="606.4" y1="221.3" x2="597.4" y2="221.3"/><line x1="84.3" y1="210.9" x2="91.3" y2="210.9"/><line x1="606.4" y1="210.9" x2="599.4" y2="210.9"/><line x1="84.3" y1="200.5" x2="91.3" y2="200.5"/><line x1="606.4" y1="200.5" x2="599.4" y2="200.5"/><line x1="84.3" y1="190.0" x2="91.3" y2="190.0"/><line x1="606.4" y1="190.0" x2="599.4" y2="190.0"/><line x1="84.3" y1="179.6" x2="91.3" y2="179.6"/><line x1="606.4" y1="179.6" x2="599.4" y2="179.6"/><line x1="84.3" y1="169.2" x2="93.3" y2="169.2"/><line x1="606.4" y1="169.2" x2="597.4" y2="169.2"/><line x1="84.3" y1="158.8" x2="91.3" y2="158.8"/><line x1="606.4" y1="158.8" x2="599.4" y2="158.8"/><line x1="84.3" y1="148.4" x2="91.3" y2="148.4"/><line x1="606.4" y1="148.4" x2="599.4" y2="148.4"/><line x1="84.3" y1="138.0" x2="91.3" y2="138.0"/><line x1="606.4" y1="138.0" x2="599.4" y2="138.0"/><line x1="84.3" y1="127.6" x2="91.3" y2="127.6"/><line x1="606.4" y1="127.6" x2="599.4" y2="127.6"/><line x1="84.3" y1="117.1" x2="93.3" y2="117.1"/><line x1="606.4" y1="117.1" x2="597.4" y2="117.1"/><line x1="84.3" y1="106.7" x2="91.3" y2="106.7"/><line x1="606.4" y1="106.7" x2="599.4" y2="106.7"/><line x1="84.3" y1="96.3" x2="91.3" y2="96.3"/><line x1="606.4" y1="96.3" x2="599.4" y2="96.3"/><line x1="84.3" y1="85.9" x2="91.3" y2="85.9"/><line x1="606.4" y1="85.9" x2="599.4" y2="85.9"/><line x1="84.3" y1="75.5" x2="91.3" y2="75.5"/><line x1="606.4" y1="75.5" x2="599.4" y2="75.5"/><line x1="84.3" y1="65.1" x2="93.3" y2="65.1"/><line x1="606.4" y1="65.1" x2="597.4" y2="65.1"/><line x1="84.3" y1="54.7" x2="91.3" y2="54.7"/><line x1="606.4" y1="54.7" x2="599.4" y2="54.7"/><line x1="84.3" y1="44.2" x2="91.3" y2="44.2"/><line x1="606.4" y1="44.2" x2="599.4" y2="44.2"/><line x1="84.3" y1="33.8" x2="91.3" y2="33.8"/><line x1="606.4" y1="33.8" x2="599.4" y2="33.8"/><line x1="84.3" y1="23.4" x2="91.3" y2="23.4"/><line x1="606.4" y1="23.4" x2="599.4" y2="23.4"/><line x1="84.3" y1="13.0" x2="93.3" y2="13.0"/><line x1="606.4" y1="13.0" x2="597.4" y2="13.0"/></g><rect x="84.3" y="13.0" width="522.1" height="520.7" fill="none" stroke="#000" stroke-width="2.2"/><text transform="translate(73.60,22.55) scale(1,1.0)" font-size="23" text-anchor="end">1.0</text><text transform="translate(73.60,69.15) scale(1,1.0)" font-size="23" text-anchor="end">0.9</text><text transform="translate(73.60,122.35) scale(1,1.0)" font-size="23" text-anchor="end">0.8</text><text transform="translate(73.60,174.35) scale(1,1.0)" font-size="23" text-anchor="end">0.7</text><text transform="translate(73.60,227.55) scale(1,1.0)" font-size="23" text-anchor="end">0.6</text><text transform="translate(73.60,279.35) scale(1,1.0)" font-size="23" text-anchor="end">0.5</text><text transform="translate(73.60,331.15) scale(1,1.0)" font-size="23" text-anchor="end">0.4</text><text transform="translate(73.60,383.05) scale(1,1.0)" font-size="23" text-anchor="end">0.3</text><text transform="translate(73.60,435.05) scale(1,1.0)" font-size="23" text-anchor="end">0.2</text><text transform="translate(73.60,487.85) scale(1,1.0)" font-size="23" text-anchor="end">0.1</text><text transform="translate(73.60,539.65) scale(1,1.0)" font-size="23" text-anchor="end">0.0</text><text transform="translate(86.40,561.03) scale(1,1.07)" font-size="22" text-anchor="middle">0.0</text><text transform="translate(136.80,562.63) scale(1,1.07)" font-size="22" text-anchor="middle">0.1</text><text transform="translate(190.10,562.63) scale(1,1.07)" font-size="22" text-anchor="middle">0.2</text><text transform="translate(242.90,562.63) scale(1,1.07)" font-size="22" text-anchor="middle">0.3</text><text transform="translate(294.90,562.63) scale(1,1.07)" font-size="22" text-anchor="middle">0.4</text><text transform="translate(345.00,562.63) scale(1,1.07)" font-size="22" text-anchor="middle">0.5</text><text transform="translate(399.00,562.63) scale(1,1.07)" font-size="22" text-anchor="middle">0.6</text><text transform="translate(450.40,562.63) scale(1,1.07)" font-size="22" text-anchor="middle">0.7</text><text transform="translate(503.00,562.63) scale(1,1.07)" font-size="22" text-anchor="middle">0.8</text><text transform="translate(555.30,562.63) scale(1,1.07)" font-size="22" text-anchor="middle">0.9</text><text transform="translate(608.40,562.63) scale(1,1.07)" font-size="22" text-anchor="middle">1.0</text><text x="65" y="597" font-size="29" text-anchor="start" font-weight="normal" >Phl</text><text x="326" y="597" font-size="29" text-anchor="start" font-weight="normal" >Al<tspan font-size="15" dy="-13">VI</tspan></text><text x="588.5" y="598" font-size="29" text-anchor="start" font-weight="normal" >Eas</text><text x="4" y="21" font-size="30" text-anchor="start" font-weight="bold" >a</text><text x="268.3" y="484" font-size="38.6" text-anchor="start" font-weight="normal" >T = 900 °C</text><text transform="translate(26,317) rotate(-90)" font-size="29">(activity)<tspan font-size="15.5" dy="-12.5">1/3</tspan></text><text transform="translate(147.91,192.34) rotate(-41.19)" font-size="37" style="stroke-width:0.45px">a<tspan font-size="19.5" dy="5" style="stroke-width:0.3px">Eas</tspan></text><text transform="translate(174.82,261.45) rotate(-41.97)" font-size="37" style="stroke-width:0.45px">a<tspan font-size="19.5" dy="5" style="stroke-width:0.3px">Eas</tspan></text><text transform="translate(210.53,301.64) rotate(-13.73)" font-size="37" style="stroke-width:0.45px">a<tspan font-size="19.5" dy="5" style="stroke-width:0.3px">dEas</tspan></text><text transform="translate(523.33,151.19) rotate(54.58)" font-size="37" style="stroke-width:0.45px">a<tspan font-size="19.5" dy="5" style="stroke-width:0.3px">Phl</tspan></text><text transform="translate(459.21,196.0) rotate(42.28)" font-size="37" style="stroke-width:0.45px">a<tspan font-size="19.5" dy="5" style="stroke-width:0.3px">Phl</tspan></text>
<line x1="98.7" y1="703.3909090909092" x2="618.2" y2="1176.3" stroke="#000" stroke-width="2"/><line x1="98.7" y1="1176.3" x2="618.2" y2="703.3909090909092" stroke="#000" stroke-width="2"/><path d="M98.7,703.4 L100.6,703.9 L102.6,704.5 L104.5,705.0 L106.5,705.5 L108.4,706.1 L110.3,706.6 L112.3,707.1 L114.2,707.7 L116.1,708.2 L118.1,708.7 L120.0,709.3 L121.9,709.8 L123.9,710.4 L125.8,710.9 L127.7,711.4 L129.7,712.0 L131.6,712.5 L133.5,713.1 L135.5,713.6 L137.4,714.2 L139.3,714.7 L141.3,715.2 L143.2,715.8 L145.1,716.3 L147.1,716.9 L149.0,717.4 L150.9,718.0 L152.9,718.5 L154.8,719.1 L156.7,719.6 L158.7,720.2 L160.6,720.7 L162.5,721.3 L164.4,721.8 L166.4,722.4 L168.3,723.0 L170.2,723.5 L172.2,724.1 L174.1,724.6 L176.0,725.2 L177.9,725.7 L179.9,726.3 L181.8,726.9 L183.7,727.4 L185.6,728.0 L187.6,728.6 L189.5,729.1 L191.4,729.7 L193.3,730.2 L195.3,730.8 L197.2,731.4 L199.1,731.9 L201.0,732.5 L203.0,733.1 L204.9,733.7 L206.8,734.2 L208.7,734.8 L210.6,735.4 L212.6,735.9 L214.5,736.5 L216.4,737.1 L218.3,737.7 L220.2,738.2 L222.2,738.8 L224.1,739.4 L226.0,740.0 L227.9,740.6 L229.8,741.1 L231.7,741.7 L233.7,742.3 L235.6,742.9 L237.5,743.5 L239.4,744.1 L241.3,744.6 L243.2,745.2 L245.1,745.8 L247.1,746.4 L249.0,747.0 L250.9,747.6 L252.8,748.2 L254.7,748.8 L256.6,749.4 L258.5,750.0 L260.4,750.6 L262.3,751.2 L264.2,751.7 L266.2,752.3 L268.1,752.9 L270.0,753.5 L271.9,754.1 L273.8,754.7 L275.7,755.4 L277.6,756.0 L279.5,756.6 L281.4,757.2 L283.3,757.8 L285.2,758.4 L287.1,759.0 L289.0,759.7 L290.9,760.3 L292.8,761.0 L294.7,761.6 L296.6,762.3 L298.5,763.0 L300.4,763.6 L302.3,764.3 L304.2,765.0 L306.0,765.7 L307.9,766.4 L309.8,767.2 L311.7,767.9 L313.6,768.6 L315.5,769.3 L317.4,770.1 L319.2,770.8 L321.1,771.6 L323.0,772.4 L324.9,773.1 L326.7,773.9 L328.6,774.7 L330.5,775.4 L332.3,776.2 L334.2,777.0 L336.1,777.8 L337.9,778.6 L339.8,779.4 L341.6,780.2 L343.5,781.0 L345.3,781.8 L347.2,782.6 L349.0,783.5 L350.9,784.3 L352.7,785.1 L354.5,785.9 L356.4,786.8 L358.2,787.6 L360.0,788.5 L361.9,789.3 L363.7,790.2 L365.5,791.0 L367.3,791.9 L369.1,792.8 L370.9,793.6 L372.8,794.5 L374.6,795.4 L376.4,796.3 L378.2,797.1 L380.0,798.0 L381.7,798.9 L383.5,799.8 L385.3,800.7 L387.1,801.6 L388.9,802.5 L390.7,803.5 L392.4,804.4 L394.2,805.3 L396.0,806.2 L397.7,807.2 L399.5,808.1 L401.2,809.1 L403.0,810.0 L404.7,811.0 L406.5,811.9 L408.2,812.9 L409.9,813.9 L411.7,814.9 L413.4,815.9 L415.1,816.9 L416.8,817.9 L418.5,818.9 L420.2,819.9 L421.9,820.9 L423.6,822.0 L425.3,823.0 L427.0,824.1 L428.7,825.1 L430.4,826.2 L432.1,827.3 L433.7,828.4 L435.4,829.5 L437.1,830.6 L438.7,831.7 L440.4,832.8 L442.0,833.9 L443.6,835.1 L445.3,836.2 L446.9,837.4 L448.5,838.6 L450.2,839.7 L451.8,840.9 L453.4,842.1 L455.0,843.3 L456.6,844.6 L458.2,845.8 L459.8,847.0 L461.3,848.3 L462.9,849.6 L464.5,850.8 L466.0,852.1 L467.6,853.4 L469.1,854.7 L470.7,856.0 L472.2,857.3 L473.7,858.6 L475.2,860.0 L476.7,861.3 L478.2,862.7 L479.7,864.0 L481.2,865.4 L482.7,866.8 L484.2,868.1 L485.6,869.5 L487.1,870.9 L488.5,872.4 L489.9,873.8 L491.4,875.2 L492.8,876.6 L494.2,878.1 L495.6,879.5 L497.0,881.0 L498.4,882.5 L499.7,883.9 L501.1,885.4 L502.4,886.9 L503.8,888.4 L505.1,889.9 L506.4,891.4 L507.7,893.0 L509.0,894.5 L510.3,896.0 L511.6,897.6 L512.9,899.1 L514.1,900.7 L515.4,902.3 L516.6,903.8 L517.8,905.4 L519.0,907.0 L520.3,908.6 L521.5,910.2 L522.6,911.8 L523.8,913.4 L525.0,915.0 L526.2,916.7 L527.3,918.3 L528.4,919.9 L529.6,921.6 L530.7,923.2 L531.8,924.9 L532.9,926.6 L534.0,928.2 L535.1,929.9 L536.2,931.6 L537.3,933.3 L538.4,935.0 L539.4,936.6 L540.5,938.3 L541.5,940.1 L542.6,941.8 L543.6,943.5 L544.6,945.2 L545.6,946.9 L546.7,948.6 L547.7,950.4 L548.7,952.1 L549.7,953.8 L550.6,955.6 L551.6,957.3 L552.6,959.1 L553.6,960.8 L554.5,962.6 L555.5,964.4 L556.5,966.1 L557.4,967.9 L558.4,969.7 L559.3,971.4 L560.2,973.2 L561.2,975.0 L562.1,976.8 L563.0,978.5 L563.9,980.3 L564.8,982.1 L565.7,983.9 L566.6,985.7 L567.5,987.5 L568.4,989.3 L569.3,991.1 L570.2,992.9 L571.1,994.7 L571.9,996.5 L572.8,998.3 L573.7,1000.2 L574.5,1002.0 L575.4,1003.8 L576.2,1005.6 L577.1,1007.4 L577.9,1009.3 L578.7,1011.1 L579.5,1012.9 L580.4,1014.8 L581.2,1016.6 L582.0,1018.4 L582.8,1020.3 L583.5,1022.1 L584.3,1024.0 L585.1,1025.8 L585.9,1027.7 L586.6,1029.6 L587.4,1031.4 L588.1,1033.3 L588.9,1035.1 L589.6,1037.0 L590.3,1038.9 L591.0,1040.8 L591.8,1042.6 L592.5,1044.5 L593.2,1046.4 L593.8,1048.3 L594.5,1050.2 L595.2,1052.1 L595.9,1054.0 L596.5,1055.9 L597.2,1057.7 L597.8,1059.7 L598.4,1061.6 L599.1,1063.5 L599.7,1065.4 L600.3,1067.3 L600.9,1069.2 L601.5,1071.1 L602.0,1073.0 L602.6,1075.0 L603.2,1076.9 L603.7,1078.8 L604.2,1080.8 L604.8,1082.7 L605.3,1084.6 L605.8,1086.6 L606.3,1088.5 L606.8,1090.5 L607.2,1092.4 L607.7,1094.4 L608.1,1096.3 L608.6,1098.3 L609.0,1100.2 L609.4,1102.2 L609.8,1104.2 L610.2,1106.1 L610.6,1108.1 L610.9,1110.1 L611.3,1112.1 L611.6,1114.0 L611.9,1116.0 L612.2,1118.0 L612.5,1120.0" fill="none" stroke="#d9491f" stroke-width="2.4" stroke-linejoin="round" stroke-dasharray="9.8,11" stroke-dashoffset="6.73"/><path d="M105.0,1062.0 L105.5,1060.1 L105.9,1058.2 L106.4,1056.2 L106.9,1054.3 L107.3,1052.4 L107.8,1050.4 L108.3,1048.5 L108.8,1046.5 L109.3,1044.6 L109.8,1042.6 L110.3,1040.7 L110.8,1038.7 L111.3,1036.8 L111.8,1034.8 L112.4,1032.8 L112.9,1030.9 L113.5,1028.9 L114.1,1027.0 L114.7,1025.1 L115.3,1023.1 L115.9,1021.2 L116.5,1019.3 L117.1,1017.3 L117.8,1015.4 L118.4,1013.5 L119.1,1011.6 L119.8,1009.7 L120.5,1007.8 L121.2,1005.9 L122.0,1004.0 L122.7,1002.2 L123.5,1000.3 L124.3,998.4 L125.1,996.6 L125.9,994.7 L126.7,992.9 L127.5,991.1 L128.4,989.3 L129.3,987.4 L130.1,985.6 L131.0,983.8 L131.9,982.1 L132.9,980.3 L133.8,978.5 L134.8,976.7 L135.7,975.0 L136.7,973.2 L137.7,971.5 L138.7,969.8 L139.7,968.0 L140.8,966.3 L141.8,964.6 L142.9,962.9 L144.0,961.2 L145.1,959.6 L146.2,957.9 L147.3,956.2 L148.5,954.6 L149.6,953.0 L150.8,951.3 L152.0,949.7 L153.2,948.1 L154.4,946.5 L155.6,944.9 L156.9,943.3 L158.1,941.8 L159.4,940.2 L160.7,938.7 L162.0,937.1 L163.3,935.6 L164.6,934.1 L165.9,932.6 L167.3,931.1 L168.6,929.6 L170.0,928.1 L171.4,926.7 L172.8,925.2 L174.2,923.8 L175.6,922.3 L177.1,920.9 L178.5,919.5 L180.0,918.1 L181.4,916.7 L182.9,915.4 L184.4,914.0 L185.9,912.7 L187.4,911.3 L189.0,910.0 L190.5,908.7 L192.0,907.4 L193.6,906.1 L195.2,904.9 L196.7,903.6 L198.3,902.4 L199.9,901.2 L201.5,899.9 L203.1,898.7 L204.7,897.6 L206.4,896.4 L208.0,895.2 L209.7,894.1 L211.3,892.9 L213.0,891.8 L214.6,890.7 L216.3,889.6 L218.0,888.5 L219.7,887.5 L221.4,886.4 L223.1,885.4 L224.8,884.4 L226.5,883.3 L228.3,882.3 L230.0,881.3 L231.7,880.4 L233.5,879.4 L235.2,878.4 L237.0,877.5 L238.8,876.5 L240.5,875.6 L242.3,874.7 L244.1,873.8 L245.9,872.9 L247.7,872.0 L249.5,871.1 L251.3,870.2 L253.1,869.3 L254.9,868.5 L256.7,867.6 L258.5,866.8 L260.3,865.9 L262.1,865.1 L264.0,864.2 L265.8,863.4 L267.6,862.6 L269.5,861.8 L271.3,860.9 L273.1,860.1 L275.0,859.3 L276.8,858.5 L278.7,857.7 L280.5,856.9 L282.4,856.1 L284.2,855.3 L286.1,854.5 L287.9,853.7 L289.8,853.0 L291.6,852.2 L293.5,851.4 L295.4,850.6 L297.2,849.8 L299.1,849.0 L300.9,848.2 L302.8,847.4 L304.7,846.7 L306.5,845.9 L308.4,845.1 L310.2,844.3 L312.1,843.5 L314.0,842.7 L315.8,841.9 L317.7,841.1 L319.5,840.4 L321.4,839.6 L323.3,838.8 L325.1,838.0 L327.0,837.2 L328.8,836.4 L330.7,835.6 L332.6,834.8 L334.4,834.0 L336.3,833.2 L338.2,832.5 L340.0,831.7 L341.9,830.9 L343.7,830.1 L345.6,829.3 L347.5,828.5 L349.3,827.7 L351.2,826.9 L353.1,826.1 L354.9,825.3 L356.8,824.6 L358.6,823.8 L360.5,823.0 L362.4,822.2 L364.2,821.4 L366.1,820.6 L368.0,819.8 L369.8,819.0 L371.7,818.2 L373.5,817.4 L375.4,816.7 L377.3,815.9 L379.1,815.1 L381.0,814.3 L382.9,813.5 L384.7,812.7 L386.6,811.9 L388.4,811.1 L390.3,810.3 L392.2,809.5 L394.0,808.8 L395.9,808.0 L397.7,807.2 L399.6,806.4 L401.4,805.6 L403.3,804.8 L405.2,804.0 L407.0,803.2 L408.9,802.4 L410.7,801.7 L412.6,800.9 L414.5,800.1 L416.3,799.3 L418.2,798.5 L420.0,797.7 L421.9,796.9 L423.7,796.1 L425.6,795.4 L427.4,794.6 L429.3,793.8 L431.1,793.0 L433.0,792.2 L434.8,791.4 L436.7,790.7 L438.6,789.9 L440.4,789.1 L442.3,788.3 L444.1,787.5 L446.0,786.7 L447.8,786.0 L449.7,785.2 L451.5,784.4 L453.3,783.6 L455.2,782.8 L457.0,782.0 L458.9,781.3 L460.7,780.5 L462.6,779.7 L464.4,778.9 L466.3,778.1 L468.1,777.4 L469.9,776.6 L471.8,775.8 L473.6,775.0 L475.5,774.3 L477.3,773.5 L479.1,772.7 L481.0,771.9 L482.8,771.1 L484.7,770.4 L486.5,769.6 L488.3,768.8 L490.2,768.0 L492.0,767.3 L493.8,766.5 L495.7,765.7 L497.5,765.0 L499.3,764.2 L501.2,763.4 L503.0,762.6 L504.8,761.9 L506.6,761.1 L508.5,760.3 L510.3,759.6 L512.1,758.8 L513.9,758.0 L515.8,757.2 L517.6,756.4 L519.4,755.6 L521.2,754.8 L523.0,754.0 L524.9,753.2 L526.7,752.4 L528.5,751.5 L530.3,750.7 L532.1,749.8 L533.9,749.0 L535.8,748.1 L537.6,747.2 L539.4,746.3 L541.2,745.4 L543.0,744.4 L544.8,743.5 L546.6,742.5 L548.4,741.6 L550.2,740.6 L552.0,739.7 L553.8,738.7 L555.6,737.8 L557.4,736.8 L559.2,735.9 L561.0,735.0 L562.8,734.1 L564.6,733.2 L566.4,732.3 L568.2,731.4 L570.0,730.6 L571.8,729.7 L573.6,728.9 L575.4,728.0 L577.2,727.2 L578.9,726.3 L580.7,725.5 L582.5,724.6 L584.3,723.7 L586.1,722.9 L587.9,722.0 L589.6,721.1 L591.4,720.2 L593.2,719.3 L595.0,718.4 L596.7,717.5 L598.5,716.6 L600.3,715.6 L602.1,714.6 L603.8,713.6 L605.6,712.6 L607.4,711.5 L609.1,710.5 L610.9,709.4 L612.6,708.3 L614.4,707.1" fill="none" stroke="#67b424" stroke-width="2.4" stroke-linejoin="round" stroke-dasharray="9.8,11" stroke-dashoffset="18.63"/><path d="M104.5,1106.4 L104.7,1104.4 L105.0,1102.3 L105.3,1100.3 L105.7,1098.3 L106.1,1096.4 L106.6,1094.4 L107.2,1092.5 L107.8,1090.6 L108.5,1088.7 L109.2,1086.9 L110.0,1085.1 L110.9,1083.3 L111.7,1081.5 L112.7,1079.7 L113.7,1078.0 L114.7,1076.3 L115.8,1074.6 L116.9,1073.0 L118.1,1071.4 L119.4,1069.8 L120.6,1068.2 L121.9,1066.7 L123.3,1065.2 L124.7,1063.7 L126.1,1062.3 L127.6,1060.8 L129.1,1059.5 L130.6,1058.1 L132.2,1056.8 L133.8,1055.5 L135.4,1054.3 L137.1,1053.0 L138.8,1051.9 L140.5,1050.7 L142.2,1049.6 L143.9,1048.5 L145.7,1047.5 L147.5,1046.5 L149.3,1045.5 L151.1,1044.6 L152.9,1043.7 L154.7,1042.8 L156.6,1042.0 L158.4,1041.2 L160.3,1040.5 L162.1,1039.8 L164.0,1039.1 L165.9,1038.5 L167.8,1037.9 L169.7,1037.3 L171.5,1036.8 L173.4,1036.3 L175.4,1035.8 L177.3,1035.4 L179.2,1035.0 L181.1,1034.6 L183.0,1034.3 L185.0,1034.0 L186.9,1033.7 L188.8,1033.4 L190.8,1033.1 L192.7,1032.9 L194.7,1032.7 L196.7,1032.5 L198.6,1032.4 L200.6,1032.2 L202.6,1032.1 L204.5,1032.0 L206.5,1031.9 L208.5,1031.8 L210.5,1031.7 L212.5,1031.6 L214.5,1031.6 L216.4,1031.6 L218.4,1031.6 L220.4,1031.6 L222.4,1031.6 L224.5,1031.6 L226.5,1031.7 L228.5,1031.7 L230.5,1031.8 L232.5,1031.8 L234.5,1031.9 L236.5,1032.0 L238.5,1032.1 L240.6,1032.2 L242.6,1032.3 L244.6,1032.4 L246.6,1032.5 L248.7,1032.7 L250.7,1032.8 L252.7,1032.9 L254.7,1033.1 L256.8,1033.2 L258.8,1033.4 L260.8,1033.5 L262.9,1033.7 L264.9,1033.8 L266.9,1034.0 L268.9,1034.1 L271.0,1034.3 L273.0,1034.4 L275.0,1034.6 L277.0,1034.7 L279.1,1034.9 L281.1,1035.0 L283.1,1035.2 L285.2,1035.3 L287.2,1035.5 L289.2,1035.6 L291.2,1035.8 L293.2,1035.9 L295.3,1036.1 L297.3,1036.2 L299.3,1036.4 L301.3,1036.5 L303.4,1036.6 L305.4,1036.8 L307.4,1036.9 L309.4,1037.1 L311.4,1037.2 L313.5,1037.3 L315.5,1037.5 L317.5,1037.6 L319.5,1037.8 L321.5,1037.9 L323.5,1038.0 L325.6,1038.1 L327.6,1038.3 L329.6,1038.4 L331.6,1038.5 L333.6,1038.7 L335.6,1038.8 L337.7,1038.9 L339.7,1039.0 L341.7,1039.1 L343.7,1039.3 L345.7,1039.4 L347.7,1039.5 L349.7,1039.6 L351.7,1039.7 L353.8,1039.8 L355.8,1039.9 L357.8,1040.0 L359.8,1040.2 L361.8,1040.3 L363.8,1040.4 L365.8,1040.5 L367.8,1040.6 L369.8,1040.7 L371.9,1040.7 L373.9,1040.8 L375.9,1040.9 L377.9,1041.0 L379.9,1041.1 L381.9,1041.2 L383.9,1041.3 L385.9,1041.3 L387.9,1041.4 L389.9,1041.5 L391.9,1041.6 L393.9,1041.6 L395.9,1041.7 L397.9,1041.8 L400.0,1041.8 L402.0,1041.9 L404.0,1042.0 L406.0,1042.0 L408.0,1042.1 L410.0,1042.1 L412.0,1042.2 L414.0,1042.2 L416.0,1042.3 L418.0,1042.3 L420.0,1042.3 L422.0,1042.4 L424.0,1042.4 L426.0,1042.4 L428.0,1042.5 L430.0,1042.5 L432.0,1042.5 L434.0,1042.5 L436.0,1042.6 L438.0,1042.6 L440.0,1042.6 L442.0,1042.6 L444.0,1042.6 L446.0,1042.6 L448.0,1042.6 L450.0,1042.6 L452.0,1042.6 L454.0,1042.6 L456.0,1042.6 L458.0,1042.5 L460.0,1042.5 L462.0,1042.5 L464.0,1042.5 L466.0,1042.4 L468.0,1042.4 L470.0,1042.4 L472.0,1042.3 L474.0,1042.3 L476.0,1042.2 L478.0,1042.2 L480.0,1042.1 L482.0,1042.1 L484.0,1042.0 L486.0,1041.9 L488.0,1041.9 L490.0,1041.8 L492.0,1041.7 L494.0,1041.6 L496.0,1041.5 L498.0,1041.5 L499.9,1041.4 L501.9,1041.3 L503.9,1041.1 L505.9,1041.0 L507.9,1040.9 L509.9,1040.8 L511.9,1040.7 L513.9,1040.5 L515.9,1040.4 L517.9,1040.2 L519.9,1040.0 L521.9,1039.9 L523.9,1039.7 L525.9,1039.5 L527.9,1039.3 L529.9,1039.1 L531.9,1038.9 L533.9,1038.7 L535.9,1038.4 L537.8,1038.2 L539.8,1037.9 L541.8,1037.7 L543.8,1037.5 L545.8,1037.2 L547.8,1036.9 L549.8,1036.7 L551.8,1036.4 L553.8,1036.2 L555.8,1035.9 L557.8,1035.7 L559.8,1035.4 L561.8,1035.2 L563.8,1034.9 L565.8,1034.7 L567.8,1034.4 L569.7,1034.2 L571.7,1034.0 L573.7,1033.8 L575.7,1033.6 L577.7,1033.4 L579.7,1033.2 L581.7,1033.0 L583.7,1032.9 L585.7,1032.7 L587.7,1032.6 L589.7,1032.4 L591.7,1032.3 L593.7,1032.1 L595.7,1031.9 L597.7,1031.7 L599.6,1031.4 L601.6,1031.1 L603.6,1030.8 L605.6,1030.4 L607.6,1029.9 L609.6,1029.3 L611.6,1028.9 L613.6,1029.3" fill="none" stroke="#45299a" stroke-width="2.4" stroke-linejoin="round"/><path d="M104.6,955.0 L104.8,953.0 L104.9,951.0 L105.1,948.9 L105.2,946.9 L105.4,944.9 L105.6,942.9 L105.8,940.9 L105.9,938.9 L106.1,936.9 L106.3,934.9 L106.5,932.9 L106.7,930.9 L106.9,928.9 L107.1,926.9 L107.3,924.9 L107.5,922.9 L107.7,920.9 L107.9,918.9 L108.1,916.9 L108.3,914.9 L108.6,912.9 L108.8,910.9 L109.0,908.9 L109.2,907.0 L109.5,905.0 L109.7,903.0 L110.0,901.0 L110.2,899.0 L110.5,897.0 L110.7,895.1 L111.0,893.1 L111.2,891.1 L111.5,889.1 L111.8,887.1 L112.1,885.1 L112.3,883.2 L112.6,881.2 L112.9,879.2 L113.2,877.2 L113.5,875.2 L113.8,873.3 L114.1,871.3 L114.4,869.3 L114.8,867.3 L115.1,865.3 L115.4,863.4 L115.7,861.4 L116.1,859.4 L116.4,857.4 L116.8,855.4 L117.1,853.5 L117.5,851.5 L117.8,849.5 L118.2,847.5 L118.6,845.5 L119.0,843.5 L119.4,841.5 L119.7,839.6 L120.1,837.6 L120.6,835.6 L121.0,833.6 L121.4,831.6 L121.8,829.6 L122.3,827.7 L122.7,825.7 L123.2,823.7 L123.7,821.8 L124.2,819.8 L124.7,817.8 L125.2,815.9 L125.7,813.9 L126.2,812.0 L126.8,810.1 L127.4,808.1 L128.0,806.2 L128.6,804.3 L129.2,802.4 L129.8,800.5 L130.5,798.6 L131.1,796.7 L131.8,794.9 L132.5,793.0 L133.3,791.1 L134.0,789.3 L134.8,787.5 L135.6,785.6 L136.4,783.8 L137.2,782.0 L138.1,780.2 L138.9,778.5 L139.8,776.7 L140.8,774.9 L141.7,773.2 L142.7,771.5 L143.7,769.8 L144.7,768.0 L145.8,766.3 L146.8,764.7 L147.9,763.0 L149.1,761.3 L150.2,759.7 L151.4,758.0 L152.7,756.4 L153.9,754.8 L155.2,753.2 L156.5,751.6 L157.8,750.0 L159.2,748.5 L160.6,746.9 L162.1,745.4 L163.5,743.9 L165.0,742.4 L166.5,741.0 L168.0,739.6 L169.6,738.2 L171.2,736.9 L172.8,735.6 L174.4,734.3 L176.1,733.1 L177.8,732.0 L179.5,730.8 L181.2,729.8 L182.9,728.8 L184.7,727.8 L186.5,726.9 L188.2,726.1 L190.1,725.4 L191.9,724.7 L193.7,724.0 L195.6,723.4 L197.4,722.9 L199.3,722.4 L201.2,722.0 L203.1,721.6 L205.0,721.3 L206.9,721.0 L208.9,720.8 L210.8,720.6 L212.8,720.5 L214.7,720.3 L216.7,720.3 L218.6,720.2 L220.6,720.2 L222.6,720.2 L224.6,720.2 L226.6,720.3 L228.6,720.4 L230.5,720.5 L232.5,720.6 L234.5,720.8 L236.5,720.9 L238.5,721.1 L240.5,721.3 L242.5,721.5 L244.5,721.7 L246.4,721.9 L248.4,722.2 L250.4,722.4 L252.4,722.7 L254.4,723.0 L256.4,723.3 L258.3,723.6 L260.3,723.9 L262.3,724.2 L264.3,724.6 L266.3,724.9 L268.3,725.3 L270.2,725.6 L272.2,726.0 L274.2,726.4 L276.2,726.8 L278.2,727.2 L280.2,727.6 L282.1,728.0 L284.1,728.5 L286.1,728.9 L288.1,729.3 L290.1,729.8 L292.0,730.2 L294.0,730.6 L296.0,731.1 L298.0,731.5 L300.0,732.0 L301.9,732.4 L303.9,732.9 L305.9,733.3 L307.9,733.8 L309.9,734.2 L311.8,734.6 L313.8,735.1 L315.8,735.5 L317.8,736.0 L319.8,736.4 L321.8,736.9 L323.7,737.3 L325.7,737.7 L327.7,738.2 L329.7,738.6 L331.7,739.1 L333.6,739.5 L335.6,739.9 L337.6,740.3 L339.6,740.8 L341.6,741.2 L343.5,741.6 L345.5,742.0 L347.5,742.4 L349.5,742.8 L351.5,743.2 L353.4,743.6 L355.4,744.0 L357.4,744.4 L359.4,744.8 L361.4,745.1 L363.3,745.5 L365.3,745.9 L367.3,746.2 L369.3,746.6 L371.3,746.9 L373.2,747.3 L375.2,747.6 L377.2,747.9 L379.2,748.2 L381.2,748.6 L383.2,748.9 L385.1,749.2 L387.1,749.5 L389.1,749.7 L391.1,750.0 L393.1,750.3 L395.0,750.5 L397.0,750.8 L399.0,751.0 L401.0,751.2 L403.0,751.5 L405.0,751.7 L406.9,751.9 L408.9,752.1 L410.9,752.2 L412.9,752.4 L414.9,752.6 L416.9,752.7 L418.8,752.9 L420.8,753.0 L422.8,753.1 L424.8,753.2 L426.8,753.3 L428.8,753.4 L430.7,753.4 L432.7,753.5 L434.7,753.5 L436.7,753.5 L438.7,753.5 L440.7,753.5 L442.6,753.5 L444.6,753.5 L446.6,753.4 L448.6,753.4 L450.6,753.3 L452.6,753.2 L454.5,753.0 L456.5,752.9 L458.5,752.8 L460.5,752.6 L462.5,752.4 L464.5,752.2 L466.5,752.0 L468.4,751.7 L470.4,751.5 L472.4,751.2 L474.4,750.9 L476.4,750.6 L478.4,750.4 L480.4,750.1 L482.4,749.8 L484.3,749.5 L486.3,749.2 L488.3,748.9 L490.3,748.6 L492.3,748.3 L494.3,748.0 L496.3,747.7 L498.3,747.4 L500.3,747.1 L502.2,746.8 L504.2,746.5 L506.2,746.1 L508.2,745.8 L510.2,745.4 L512.2,745.1 L514.2,744.7 L516.2,744.3 L518.1,744.0 L520.1,743.6 L522.1,743.2 L524.1,742.8 L526.1,742.4 L528.1,741.9 L530.0,741.5 L532.0,741.1 L534.0,740.6 L536.0,740.2 L537.9,739.7 L539.9,739.2 L541.8,738.7 L543.8,738.3 L545.8,737.8 L547.7,737.2 L549.7,736.7 L551.6,736.2 L553.5,735.7 L555.5,735.1 L557.4,734.5 L559.3,734.0 L561.3,733.4 L563.2,732.8 L565.1,732.2 L567.0,731.6 L568.9,731.0 L570.8,730.3 L572.7,729.7 L574.6,729.0 L576.5,728.4 L578.4,727.7 L580.2,727.0 L582.1,726.3 L584.0,725.5 L585.8,724.8 L587.6,724.0 L589.5,723.2 L591.3,722.5 L593.1,721.6 L595.0,720.8 L596.8,720.0 L598.6,719.1 L600.4,718.2 L602.1,717.3 L603.9,716.4 L605.7,715.4 L607.4,714.4 L609.2,713.4 L610.9,712.4 L612.7,711.4 L614.4,710.3" fill="none" stroke="#67b424" stroke-width="2.4" stroke-linejoin="round"/><path d="M98.7,703.4 L100.6,703.8 L102.6,704.2 L104.5,704.6 L106.5,705.0 L108.4,705.4 L110.4,705.8 L112.4,706.3 L114.3,706.7 L116.3,707.2 L118.2,707.7 L120.2,708.1 L122.1,708.6 L124.1,709.1 L126.1,709.6 L128.0,710.0 L130.0,710.5 L132.0,711.0 L133.9,711.5 L135.9,711.9 L137.9,712.4 L139.9,712.8 L141.8,713.3 L143.8,713.7 L145.8,714.2 L147.7,714.6 L149.7,715.0 L151.7,715.4 L153.7,715.8 L155.7,716.1 L157.6,716.5 L159.6,716.8 L161.6,717.2 L163.6,717.5 L165.6,717.8 L167.5,718.1 L169.5,718.4 L171.5,718.7 L173.5,718.9 L175.5,719.2 L177.5,719.4 L179.5,719.6 L181.5,719.8 L183.4,720.0 L185.4,720.2 L187.4,720.4 L189.4,720.6 L191.4,720.7 L193.4,720.9 L195.4,721.0 L197.4,721.2 L199.4,721.3 L201.4,721.4 L203.4,721.5 L205.4,721.6 L207.4,721.7 L209.3,721.7 L211.3,721.8 L213.3,721.9 L215.3,721.9 L217.3,721.9 L219.3,722.0 L221.3,722.0 L223.3,722.0 L225.3,722.0 L227.3,721.9 L229.3,721.9 L231.3,721.9 L233.3,721.8 L235.3,721.8 L237.3,721.7 L239.3,721.7 L241.3,721.6 L243.3,721.5 L245.3,721.4 L247.3,721.3 L249.3,721.2 L251.3,721.1 L253.3,720.9 L255.3,720.8 L257.3,720.6 L259.3,720.5 L261.3,720.3 L263.3,720.1 L265.3,720.0 L267.3,719.8 L269.3,719.6 L271.3,719.4 L273.3,719.2 L275.3,718.9 L277.2,718.7 L279.2,718.5 L281.2,718.2 L283.2,718.0 L285.2,717.7 L287.2,717.4 L289.2,717.2 L291.2,716.9 L293.2,716.6 L295.2,716.3 L297.2,716.0 L299.2,715.7 L301.1,715.4 L303.1,715.0 L305.1,714.7 L307.1,714.4 L309.1,714.0 L311.1,713.7 L313.1,713.3 L315.1,712.9 L317.0,712.6 L319.0,712.2 L321.0,711.8 L323.0,711.5 L325.0,711.1 L327.0,710.7 L329.0,710.3 L330.9,709.9 L332.9,709.5 L334.9,709.1 L336.9,708.7 L338.9,708.4 L340.9,708.0 L342.8,707.6 L344.8,707.2 L346.8,706.8 L348.8,706.4 L350.8,706.0 L352.8,705.6 L354.7,705.2 L356.7,704.8 L358.7,704.4 L360.7,704.0 L362.7,703.6 L364.7,703.2 L366.6,702.8 L368.6,702.5 L370.6,702.1 L372.6,701.7 L374.6,701.4 L376.6,701.0 L378.6,700.6 L380.6,700.3 L382.5,699.9 L384.5,699.6 L386.5,699.3 L388.5,698.9 L390.5,698.6 L392.5,698.3 L394.5,698.0 L396.5,697.7 L398.5,697.4 L400.5,697.1 L402.5,696.8 L404.5,696.5 L406.4,696.3 L408.4,696.0 L410.4,695.8 L412.4,695.6 L414.4,695.3 L416.4,695.1 L418.4,694.9 L420.4,694.7 L422.4,694.6 L424.5,694.4 L426.5,694.2 L428.5,694.1 L430.5,694.0 L432.5,693.9 L434.5,693.8 L436.5,693.7 L438.5,693.6 L440.5,693.6 L442.5,693.5 L444.5,693.5 L446.5,693.5 L448.5,693.6 L450.5,693.6 L452.5,693.7 L454.5,693.9 L456.5,694.0 L458.4,694.2 L460.4,694.4 L462.4,694.7 L464.3,695.0 L466.3,695.3 L468.2,695.7 L470.1,696.1 L472.0,696.6 L473.9,697.1 L475.8,697.6 L477.7,698.2 L479.6,698.8 L481.4,699.5 L483.2,700.2 L485.1,700.9 L486.9,701.7 L488.7,702.5 L490.5,703.4 L492.2,704.3 L494.0,705.2 L495.7,706.2 L497.4,707.2 L499.1,708.2 L500.8,709.3 L502.4,710.4 L504.1,711.5 L505.7,712.7 L507.3,713.9 L508.9,715.1 L510.5,716.4 L512.0,717.6 L513.6,719.0 L515.1,720.3 L516.6,721.6 L518.1,723.0 L519.5,724.4 L521.0,725.9 L522.4,727.3 L523.8,728.8 L525.2,730.3 L526.5,731.8 L527.9,733.3 L529.2,734.8 L530.5,736.4 L531.8,738.0 L533.0,739.6 L534.3,741.2 L535.5,742.8 L536.7,744.4 L537.8,746.1 L539.0,747.7 L540.1,749.4 L541.2,751.1 L542.3,752.8 L543.4,754.5 L544.4,756.2 L545.5,757.9 L546.5,759.7 L547.5,761.4 L548.5,763.2 L549.5,764.9 L550.4,766.7 L551.4,768.5 L552.3,770.3 L553.2,772.1 L554.1,773.9 L555.0,775.7 L555.9,777.5 L556.7,779.3 L557.6,781.1 L558.4,783.0 L559.2,784.8 L560.0,786.7 L560.8,788.5 L561.6,790.4 L562.4,792.2 L563.1,794.1 L563.9,796.0 L564.6,797.8 L565.4,799.7 L566.1,801.6 L566.8,803.5 L567.5,805.3 L568.2,807.2 L568.9,809.1 L569.6,811.0 L570.3,812.9 L570.9,814.8 L571.6,816.7 L572.2,818.6 L572.9,820.5 L573.5,822.4 L574.2,824.3 L574.8,826.2 L575.4,828.1 L576.0,830.0 L576.6,831.9 L577.2,833.8 L577.8,835.7 L578.4,837.6 L578.9,839.5 L579.5,841.5 L580.1,843.4 L580.6,845.3 L581.2,847.2 L581.7,849.1 L582.2,851.1 L582.8,853.0 L583.3,854.9 L583.8,856.9 L584.3,858.8 L584.8,860.7 L585.3,862.7 L585.8,864.6 L586.3,866.5 L586.8,868.5 L587.3,870.4 L587.8,872.4 L588.2,874.3 L588.7,876.3 L589.2,878.2 L589.6,880.2 L590.1,882.1 L590.5,884.1 L591.0,886.0 L591.4,888.0 L591.8,889.9 L592.3,891.9 L592.7,893.9 L593.1,895.8 L593.6,897.8 L594.0,899.7 L594.4,901.7 L594.8,903.7 L595.2,905.6 L595.6,907.6 L596.0,909.6 L596.4,911.5 L596.8,913.5 L597.2,915.5 L597.6,917.5 L598.0,919.4 L598.4,921.4 L598.8,923.4 L599.2,925.4 L599.5,927.3 L599.9,929.3 L600.3,931.3 L600.7,933.3 L601.0,935.3 L601.4,937.2 L601.8,939.2 L602.2,941.2 L602.5,943.2 L602.9,945.2 L603.2,947.2 L603.6,949.1 L604.0,951.1 L604.3,953.1 L604.6,955.1 L605.0,957.1 L605.3,959.1 L605.7,961.1 L606.0,963.1 L606.3,965.0 L606.6,967.0 L607.0,969.0 L607.3,971.0 L607.6,973.0 L607.9,975.0 L608.2,977.0 L608.5,979.0 L608.8,981.0 L609.1,983.0 L609.4,985.0 L609.6,987.0 L609.9,989.0 L610.2,990.9 L610.4,992.9 L610.7,994.9 L610.9,996.9 L611.2,998.9 L611.4,1000.9 L611.7,1002.9 L611.9,1004.9 L612.1,1006.9 L612.3,1008.9 L612.5,1010.9 L612.7,1012.9 L612.9,1014.9 L613.1,1016.9 L613.3,1018.9 L613.4,1020.9 L613.6,1022.8 L613.7,1024.8 L613.9,1026.8 L614.0,1028.8 L614.2,1030.8 L614.3,1032.8 L614.4,1034.8" fill="none" stroke="#d9491f" stroke-width="2.4" stroke-linejoin="round"/><g stroke="#000" stroke-width="1.4"><line x1="98.7" y1="1176.3" x2="98.7" y2="1167.7"/><line x1="98.7" y1="656.1" x2="98.7" y2="664.7"/><line x1="109.2" y1="1176.3" x2="109.2" y2="1170.3"/><line x1="109.2" y1="656.1" x2="109.2" y2="662.1"/><line x1="119.7" y1="1176.3" x2="119.7" y2="1170.3"/><line x1="119.7" y1="656.1" x2="119.7" y2="662.1"/><line x1="130.3" y1="1176.3" x2="130.3" y2="1170.3"/><line x1="130.3" y1="656.1" x2="130.3" y2="662.1"/><line x1="140.8" y1="1176.3" x2="140.8" y2="1170.3"/><line x1="140.8" y1="656.1" x2="140.8" y2="662.1"/><line x1="151.3" y1="1176.3" x2="151.3" y2="1167.7"/><line x1="151.3" y1="656.1" x2="151.3" y2="664.7"/><line x1="161.7" y1="1176.3" x2="161.7" y2="1170.3"/><line x1="161.7" y1="656.1" x2="161.7" y2="662.1"/><line x1="172.2" y1="1176.3" x2="172.2" y2="1170.3"/><line x1="172.2" y1="656.1" x2="172.2" y2="662.1"/><line x1="182.6" y1="1176.3" x2="182.6" y2="1170.3"/><line x1="182.6" y1="656.1" x2="182.6" y2="662.1"/><line x1="193.1" y1="1176.3" x2="193.1" y2="1170.3"/><line x1="193.1" y1="656.1" x2="193.1" y2="662.1"/><line x1="203.5" y1="1176.3" x2="203.5" y2="1167.7"/><line x1="203.5" y1="656.1" x2="203.5" y2="664.7"/><line x1="214.0" y1="1176.3" x2="214.0" y2="1170.3"/><line x1="214.0" y1="656.1" x2="214.0" y2="662.1"/><line x1="224.4" y1="1176.3" x2="224.4" y2="1170.3"/><line x1="224.4" y1="656.1" x2="224.4" y2="662.1"/><line x1="234.9" y1="1176.3" x2="234.9" y2="1170.3"/><line x1="234.9" y1="656.1" x2="234.9" y2="662.1"/><line x1="245.3" y1="1176.3" x2="245.3" y2="1170.3"/><line x1="245.3" y1="656.1" x2="245.3" y2="662.1"/><line x1="255.8" y1="1176.3" x2="255.8" y2="1167.7"/><line x1="255.8" y1="656.1" x2="255.8" y2="664.7"/><line x1="266.0" y1="1176.3" x2="266.0" y2="1170.3"/><line x1="266.0" y1="656.1" x2="266.0" y2="662.1"/><line x1="276.2" y1="1176.3" x2="276.2" y2="1170.3"/><line x1="276.2" y1="656.1" x2="276.2" y2="662.1"/><line x1="286.4" y1="1176.3" x2="286.4" y2="1170.3"/><line x1="286.4" y1="656.1" x2="286.4" y2="662.1"/><line x1="296.6" y1="1176.3" x2="296.6" y2="1170.3"/><line x1="296.6" y1="656.1" x2="296.6" y2="662.1"/><line x1="306.8" y1="1176.3" x2="306.8" y2="1167.7"/><line x1="306.8" y1="656.1" x2="306.8" y2="664.7"/><line x1="317.3" y1="1176.3" x2="317.3" y2="1170.3"/><line x1="317.3" y1="656.1" x2="317.3" y2="662.1"/><line x1="327.8" y1="1176.3" x2="327.8" y2="1170.3"/><line x1="327.8" y1="656.1" x2="327.8" y2="662.1"/><line x1="338.2" y1="1176.3" x2="338.2" y2="1170.3"/><line x1="338.2" y1="656.1" x2="338.2" y2="662.1"/><line x1="348.7" y1="1176.3" x2="348.7" y2="1170.3"/><line x1="348.7" y1="656.1" x2="348.7" y2="662.1"/><line x1="359.2" y1="1176.3" x2="359.2" y2="1167.7"/><line x1="359.2" y1="656.1" x2="359.2" y2="664.7"/><line x1="369.8" y1="1176.3" x2="369.8" y2="1170.3"/><line x1="369.8" y1="656.1" x2="369.8" y2="662.1"/><line x1="380.4" y1="1176.3" x2="380.4" y2="1170.3"/><line x1="380.4" y1="656.1" x2="380.4" y2="662.1"/><line x1="390.9" y1="1176.3" x2="390.9" y2="1170.3"/><line x1="390.9" y1="656.1" x2="390.9" y2="662.1"/><line x1="401.5" y1="1176.3" x2="401.5" y2="1170.3"/><line x1="401.5" y1="656.1" x2="401.5" y2="662.1"/><line x1="412.1" y1="1176.3" x2="412.1" y2="1167.7"/><line x1="412.1" y1="656.1" x2="412.1" y2="664.7"/><line x1="422.2" y1="1176.3" x2="422.2" y2="1170.3"/><line x1="422.2" y1="656.1" x2="422.2" y2="662.1"/><line x1="432.4" y1="1176.3" x2="432.4" y2="1170.3"/><line x1="432.4" y1="656.1" x2="432.4" y2="662.1"/><line x1="442.5" y1="1176.3" x2="442.5" y2="1170.3"/><line x1="442.5" y1="656.1" x2="442.5" y2="662.1"/><line x1="452.7" y1="1176.3" x2="452.7" y2="1170.3"/><line x1="452.7" y1="656.1" x2="452.7" y2="662.1"/><line x1="462.8" y1="1176.3" x2="462.8" y2="1167.7"/><line x1="462.8" y1="656.1" x2="462.8" y2="664.7"/><line x1="473.3" y1="1176.3" x2="473.3" y2="1170.3"/><line x1="473.3" y1="656.1" x2="473.3" y2="662.1"/><line x1="483.9" y1="1176.3" x2="483.9" y2="1170.3"/><line x1="483.9" y1="656.1" x2="483.9" y2="662.1"/><line x1="494.4" y1="1176.3" x2="494.4" y2="1170.3"/><line x1="494.4" y1="656.1" x2="494.4" y2="662.1"/><line x1="505.0" y1="1176.3" x2="505.0" y2="1170.3"/><line x1="505.0" y1="656.1" x2="505.0" y2="662.1"/><line x1="515.5" y1="1176.3" x2="515.5" y2="1167.7"/><line x1="515.5" y1="656.1" x2="515.5" y2="664.7"/><line x1="526.1" y1="1176.3" x2="526.1" y2="1170.3"/><line x1="526.1" y1="656.1" x2="526.1" y2="662.1"/><line x1="536.6" y1="1176.3" x2="536.6" y2="1170.3"/><line x1="536.6" y1="656.1" x2="536.6" y2="662.1"/><line x1="547.2" y1="1176.3" x2="547.2" y2="1170.3"/><line x1="547.2" y1="656.1" x2="547.2" y2="662.1"/><line x1="557.7" y1="1176.3" x2="557.7" y2="1170.3"/><line x1="557.7" y1="656.1" x2="557.7" y2="662.1"/><line x1="568.3" y1="1176.3" x2="568.3" y2="1167.7"/><line x1="568.3" y1="656.1" x2="568.3" y2="664.7"/><line x1="578.3" y1="1176.3" x2="578.3" y2="1170.3"/><line x1="578.3" y1="656.1" x2="578.3" y2="662.1"/><line x1="588.3" y1="1176.3" x2="588.3" y2="1170.3"/><line x1="588.3" y1="656.1" x2="588.3" y2="662.1"/><line x1="598.2" y1="1176.3" x2="598.2" y2="1170.3"/><line x1="598.2" y1="656.1" x2="598.2" y2="662.1"/><line x1="608.2" y1="1176.3" x2="608.2" y2="1170.3"/><line x1="608.2" y1="656.1" x2="608.2" y2="662.1"/><line x1="618.2" y1="1176.3" x2="618.2" y2="1167.7"/><line x1="618.2" y1="656.1" x2="618.2" y2="664.7"/><line x1="98.7" y1="1176.3" x2="107.7" y2="1176.3"/><line x1="618.2" y1="1176.3" x2="609.2" y2="1176.3"/><line x1="98.7" y1="1166.8" x2="105.7" y2="1166.8"/><line x1="618.2" y1="1166.8" x2="611.2" y2="1166.8"/><line x1="98.7" y1="1157.4" x2="105.7" y2="1157.4"/><line x1="618.2" y1="1157.4" x2="611.2" y2="1157.4"/><line x1="98.7" y1="1147.9" x2="105.7" y2="1147.9"/><line x1="618.2" y1="1147.9" x2="611.2" y2="1147.9"/><line x1="98.7" y1="1138.5" x2="105.7" y2="1138.5"/><line x1="618.2" y1="1138.5" x2="611.2" y2="1138.5"/><line x1="98.7" y1="1129.0" x2="107.7" y2="1129.0"/><line x1="618.2" y1="1129.0" x2="609.2" y2="1129.0"/><line x1="98.7" y1="1119.6" x2="105.7" y2="1119.6"/><line x1="618.2" y1="1119.6" x2="611.2" y2="1119.6"/><line x1="98.7" y1="1110.1" x2="105.7" y2="1110.1"/><line x1="618.2" y1="1110.1" x2="611.2" y2="1110.1"/><line x1="98.7" y1="1100.6" x2="105.7" y2="1100.6"/><line x1="618.2" y1="1100.6" x2="611.2" y2="1100.6"/><line x1="98.7" y1="1091.2" x2="105.7" y2="1091.2"/><line x1="618.2" y1="1091.2" x2="611.2" y2="1091.2"/><line x1="98.7" y1="1081.7" x2="107.7" y2="1081.7"/><line x1="618.2" y1="1081.7" x2="609.2" y2="1081.7"/><line x1="98.7" y1="1072.3" x2="105.7" y2="1072.3"/><line x1="618.2" y1="1072.3" x2="611.2" y2="1072.3"/><line x1="98.7" y1="1062.8" x2="105.7" y2="1062.8"/><line x1="618.2" y1="1062.8" x2="611.2" y2="1062.8"/><line x1="98.7" y1="1053.3" x2="105.7" y2="1053.3"/><line x1="618.2" y1="1053.3" x2="611.2" y2="1053.3"/><line x1="98.7" y1="1043.9" x2="105.7" y2="1043.9"/><line x1="618.2" y1="1043.9" x2="611.2" y2="1043.9"/><line x1="98.7" y1="1034.4" x2="107.7" y2="1034.4"/><line x1="618.2" y1="1034.4" x2="609.2" y2="1034.4"/><line x1="98.7" y1="1025.0" x2="105.7" y2="1025.0"/><line x1="618.2" y1="1025.0" x2="611.2" y2="1025.0"/><line x1="98.7" y1="1015.5" x2="105.7" y2="1015.5"/><line x1="618.2" y1="1015.5" x2="611.2" y2="1015.5"/><line x1="98.7" y1="1006.1" x2="105.7" y2="1006.1"/><line x1="618.2" y1="1006.1" x2="611.2" y2="1006.1"/><line x1="98.7" y1="996.6" x2="105.7" y2="996.6"/><line x1="618.2" y1="996.6" x2="611.2" y2="996.6"/><line x1="98.7" y1="987.1" x2="107.7" y2="987.1"/><line x1="618.2" y1="987.1" x2="609.2" y2="987.1"/><line x1="98.7" y1="977.7" x2="105.7" y2="977.7"/><line x1="618.2" y1="977.7" x2="611.2" y2="977.7"/><line x1="98.7" y1="968.2" x2="105.7" y2="968.2"/><line x1="618.2" y1="968.2" x2="611.2" y2="968.2"/><line x1="98.7" y1="958.8" x2="105.7" y2="958.8"/><line x1="618.2" y1="958.8" x2="611.2" y2="958.8"/><line x1="98.7" y1="949.3" x2="105.7" y2="949.3"/><line x1="618.2" y1="949.3" x2="611.2" y2="949.3"/><line x1="98.7" y1="939.8" x2="107.7" y2="939.8"/><line x1="618.2" y1="939.8" x2="609.2" y2="939.8"/><line x1="98.7" y1="930.4" x2="105.7" y2="930.4"/><line x1="618.2" y1="930.4" x2="611.2" y2="930.4"/><line x1="98.7" y1="920.9" x2="105.7" y2="920.9"/><line x1="618.2" y1="920.9" x2="611.2" y2="920.9"/><line x1="98.7" y1="911.5" x2="105.7" y2="911.5"/><line x1="618.2" y1="911.5" x2="611.2" y2="911.5"/><line x1="98.7" y1="902.0" x2="105.7" y2="902.0"/><line x1="618.2" y1="902.0" x2="611.2" y2="902.0"/><line x1="98.7" y1="892.6" x2="107.7" y2="892.6"/><line x1="618.2" y1="892.6" x2="609.2" y2="892.6"/><line x1="98.7" y1="883.1" x2="105.7" y2="883.1"/><line x1="618.2" y1="883.1" x2="611.2" y2="883.1"/><line x1="98.7" y1="873.6" x2="105.7" y2="873.6"/><line x1="618.2" y1="873.6" x2="611.2" y2="873.6"/><line x1="98.7" y1="864.2" x2="105.7" y2="864.2"/><line x1="618.2" y1="864.2" x2="611.2" y2="864.2"/><line x1="98.7" y1="854.7" x2="105.7" y2="854.7"/><line x1="618.2" y1="854.7" x2="611.2" y2="854.7"/><line x1="98.7" y1="845.3" x2="107.7" y2="845.3"/><line x1="618.2" y1="845.3" x2="609.2" y2="845.3"/><line x1="98.7" y1="835.8" x2="105.7" y2="835.8"/><line x1="618.2" y1="835.8" x2="611.2" y2="835.8"/><line x1="98.7" y1="826.3" x2="105.7" y2="826.3"/><line x1="618.2" y1="826.3" x2="611.2" y2="826.3"/><line x1="98.7" y1="816.9" x2="105.7" y2="816.9"/><line x1="618.2" y1="816.9" x2="611.2" y2="816.9"/><line x1="98.7" y1="807.4" x2="105.7" y2="807.4"/><line x1="618.2" y1="807.4" x2="611.2" y2="807.4"/><line x1="98.7" y1="798.0" x2="107.7" y2="798.0"/><line x1="618.2" y1="798.0" x2="609.2" y2="798.0"/><line x1="98.7" y1="788.5" x2="105.7" y2="788.5"/><line x1="618.2" y1="788.5" x2="611.2" y2="788.5"/><line x1="98.7" y1="779.1" x2="105.7" y2="779.1"/><line x1="618.2" y1="779.1" x2="611.2" y2="779.1"/><line x1="98.7" y1="769.6" x2="105.7" y2="769.6"/><line x1="618.2" y1="769.6" x2="611.2" y2="769.6"/><line x1="98.7" y1="760.1" x2="105.7" y2="760.1"/><line x1="618.2" y1="760.1" x2="611.2" y2="760.1"/><line x1="98.7" y1="750.7" x2="107.7" y2="750.7"/><line x1="618.2" y1="750.7" x2="609.2" y2="750.7"/><line x1="98.7" y1="741.2" x2="105.7" y2="741.2"/><line x1="618.2" y1="741.2" x2="611.2" y2="741.2"/><line x1="98.7" y1="731.8" x2="105.7" y2="731.8"/><line x1="618.2" y1="731.8" x2="611.2" y2="731.8"/><line x1="98.7" y1="722.3" x2="105.7" y2="722.3"/><line x1="618.2" y1="722.3" x2="611.2" y2="722.3"/><line x1="98.7" y1="712.8" x2="105.7" y2="712.8"/><line x1="618.2" y1="712.8" x2="611.2" y2="712.8"/><line x1="98.7" y1="703.4" x2="107.7" y2="703.4"/><line x1="618.2" y1="703.4" x2="609.2" y2="703.4"/><line x1="98.7" y1="693.9" x2="105.7" y2="693.9"/><line x1="618.2" y1="693.9" x2="611.2" y2="693.9"/><line x1="98.7" y1="684.5" x2="105.7" y2="684.5"/><line x1="618.2" y1="684.5" x2="611.2" y2="684.5"/><line x1="98.7" y1="675.0" x2="105.7" y2="675.0"/><line x1="618.2" y1="675.0" x2="611.2" y2="675.0"/><line x1="98.7" y1="665.6" x2="105.7" y2="665.6"/><line x1="618.2" y1="665.6" x2="611.2" y2="665.6"/><line x1="98.7" y1="656.1" x2="107.7" y2="656.1"/><line x1="618.2" y1="656.1" x2="609.2" y2="656.1"/></g><rect x="98.7" y="656.1" width="519.5" height="520.1999999999999" fill="none" stroke="#000" stroke-width="2.2"/><text transform="translate(82.20,664.65) scale(1,1.0)" font-size="23" text-anchor="end">1.1</text><text transform="translate(82.20,712.75) scale(1,1.0)" font-size="23" text-anchor="end">1.0</text><text transform="translate(82.20,757.45) scale(1,1.0)" font-size="23" text-anchor="end">0.9</text><text transform="translate(82.20,804.05) scale(1,1.0)" font-size="23" text-anchor="end">0.8</text><text transform="translate(82.20,849.95) scale(1,1.0)" font-size="23" text-anchor="end">0.7</text><text transform="translate(82.20,898.35) scale(1,1.0)" font-size="23" text-anchor="end">0.6</text><text transform="translate(82.20,945.95) scale(1,1.0)" font-size="23" text-anchor="end">0.5</text><text transform="translate(82.20,994.45) scale(1,1.0)" font-size="23" text-anchor="end">0.4</text><text transform="translate(82.20,1040.95) scale(1,1.0)" font-size="23" text-anchor="end">0.3</text><text transform="translate(82.20,1086.75) scale(1,1.0)" font-size="23" text-anchor="end">0.2</text><text transform="translate(82.20,1132.85) scale(1,1.0)" font-size="23" text-anchor="end">0.1</text><text transform="translate(82.20,1178.55) scale(1,1.0)" font-size="23" text-anchor="end">0.0</text><text transform="translate(99.00,1204.93) scale(1,1.07)" font-size="22" text-anchor="middle">0.0</text><text transform="translate(150.40,1207.13) scale(1,1.07)" font-size="22" text-anchor="middle">0.1</text><text transform="translate(202.00,1207.13) scale(1,1.07)" font-size="22" text-anchor="middle">0.2</text><text transform="translate(254.00,1207.13) scale(1,1.07)" font-size="22" text-anchor="middle">0.3</text><text transform="translate(306.00,1207.13) scale(1,1.07)" font-size="22" text-anchor="middle">0.4</text><text transform="translate(358.00,1207.13) scale(1,1.07)" font-size="22" text-anchor="middle">0.5</text><text transform="translate(410.00,1207.13) scale(1,1.07)" font-size="22" text-anchor="middle">0.6</text><text transform="translate(462.00,1207.13) scale(1,1.07)" font-size="22" text-anchor="middle">0.7</text><text transform="translate(515.70,1207.13) scale(1,1.07)" font-size="22" text-anchor="middle">0.8</text><text transform="translate(567.80,1207.13) scale(1,1.07)" font-size="22" text-anchor="middle">0.9</text><text transform="translate(619.80,1207.13) scale(1,1.07)" font-size="22" text-anchor="middle">1.0</text><text x="80" y="1242" font-size="29" text-anchor="start" font-weight="normal" >Phl</text><text x="340" y="1242" font-size="29" text-anchor="start" font-weight="normal" >Al<tspan font-size="15" dy="-13">VI</tspan></text><text x="644" y="1242" font-size="29" text-anchor="end" font-weight="normal" >Eas</text><text x="5.5" y="661" font-size="30" text-anchor="start" font-weight="bold" >b</text><text x="278.3" y="1123" font-size="39" text-anchor="start" font-weight="normal" >T = 500 °C</text><text transform="translate(28.7,955) rotate(-90)" font-size="29">(activity)<tspan font-size="15.5" dy="-12.5">1/3</tspan></text><text transform="translate(122.84,791.35) rotate(-64.7)" font-size="37" style="stroke-width:0.45px">a<tspan font-size="19.5" dy="5" style="stroke-width:0.3px">Eas</tspan></text><text transform="translate(170.91,906.5) rotate(-32.88)" font-size="37" style="stroke-width:0.45px">a<tspan font-size="19.5" dy="5" style="stroke-width:0.3px">Eas</tspan></text><text transform="translate(334.92,1023.44) rotate(-0.99)" font-size="37" style="stroke-width:0.45px">a<tspan font-size="19.5" dy="5" style="stroke-width:0.3px">dEas</tspan></text><text transform="translate(569.81,767.79) rotate(62.69)" font-size="37" style="stroke-width:0.45px">a<tspan font-size="19.5" dy="5" style="stroke-width:0.3px">Phl</tspan></text><text transform="translate(487.66,853.06) rotate(41.94)" font-size="37" style="stroke-width:0.45px">a<tspan font-size="19.5" dy="5" style="stroke-width:0.3px">Phl</tspan></text>
</g>
</svg>
</body></html>
